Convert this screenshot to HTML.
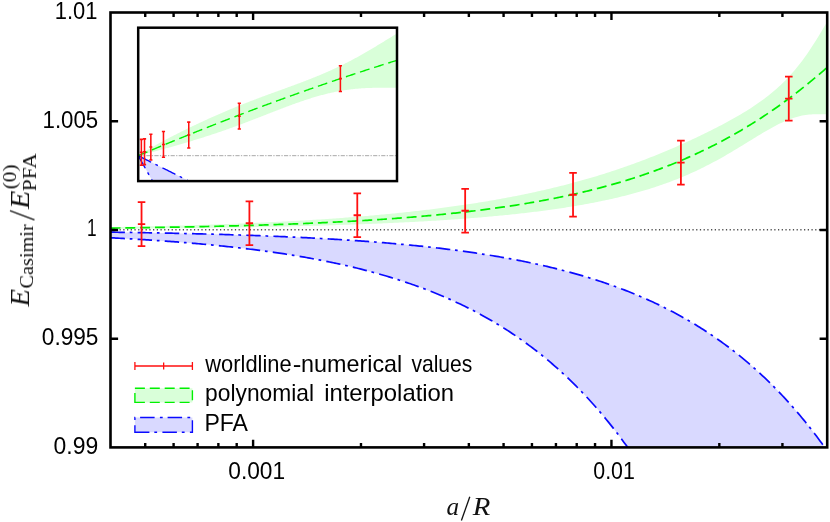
<!DOCTYPE html>
<html><head><meta charset="utf-8"><title>chart</title>
<style>html,body{margin:0;padding:0;background:#fff;overflow:hidden}svg{display:block}</style>
</head><body>
<svg width="830" height="522" viewBox="0 0 830 522">
<defs>
<clipPath id="cm"><rect x="110.50" y="12.50" width="716.70" height="434.90"/></clipPath>
<clipPath id="ci"><rect x="138.20" y="27.70" width="258.80" height="153.40"/></clipPath>
</defs>
<rect width="830" height="522" fill="#fff"/>
<g clip-path="url(#cm)">
<path d="M110.50 232.16 L112.30 232.18 L114.09 232.21 L115.89 232.24 L117.68 232.26 L119.48 232.29 L121.28 232.32 L123.07 232.35 L124.87 232.37 L126.67 232.40 L128.46 232.43 L130.26 232.46 L132.05 232.49 L133.85 232.52 L135.65 232.55 L137.44 232.58 L139.24 232.61 L141.04 232.64 L142.83 232.67 L144.63 232.70 L146.42 232.73 L148.22 232.77 L150.02 232.80 L151.81 232.83 L153.61 232.86 L155.41 232.90 L157.20 232.93 L159.00 232.97 L160.79 233.00 L162.59 233.04 L164.39 233.07 L166.18 233.11 L167.98 233.15 L169.78 233.18 L171.57 233.22 L173.37 233.26 L175.16 233.30 L176.96 233.34 L178.76 233.38 L180.55 233.42 L182.35 233.46 L184.15 233.50 L185.94 233.54 L187.74 233.58 L189.53 233.62 L191.33 233.66 L193.13 233.71 L194.92 233.75 L196.72 233.79 L198.52 233.84 L200.31 233.88 L202.11 233.93 L203.90 233.98 L205.70 234.02 L207.50 234.07 L209.29 234.12 L211.09 234.17 L212.89 234.22 L214.68 234.26 L216.48 234.32 L218.27 234.37 L220.07 234.42 L221.87 234.47 L223.66 234.52 L225.46 234.57 L227.26 234.63 L229.05 234.68 L230.85 234.74 L232.64 234.79 L234.44 234.85 L236.24 234.91 L238.03 234.96 L239.83 235.02 L241.63 235.08 L243.42 235.14 L245.22 235.20 L247.01 235.26 L248.81 235.32 L250.61 235.39 L252.40 235.45 L254.20 235.51 L256.00 235.58 L257.79 235.64 L259.59 235.71 L261.38 235.78 L263.18 235.84 L264.98 235.91 L266.77 235.98 L268.57 236.05 L270.37 236.12 L272.16 236.19 L273.96 236.27 L275.75 236.34 L277.55 236.41 L279.35 236.49 L281.14 236.56 L282.94 236.64 L284.74 236.72 L286.53 236.80 L288.33 236.88 L290.12 236.96 L291.92 237.04 L293.72 237.12 L295.51 237.20 L297.31 237.29 L299.11 237.37 L300.90 237.46 L302.70 237.55 L304.49 237.63 L306.29 237.72 L308.09 237.81 L309.88 237.91 L311.68 238.00 L313.48 238.09 L315.27 238.19 L317.07 238.28 L318.86 238.38 L320.66 238.48 L322.46 238.57 L324.25 238.67 L326.05 238.78 L327.85 238.88 L329.64 238.98 L331.44 239.09 L333.23 239.19 L335.03 239.30 L336.83 239.41 L338.62 239.52 L340.42 239.63 L342.22 239.74 L344.01 239.86 L345.81 239.97 L347.60 240.09 L349.40 240.20 L351.20 240.32 L352.99 240.44 L354.79 240.57 L356.58 240.69 L358.38 240.81 L360.18 240.94 L361.97 241.07 L363.77 241.20 L365.57 241.33 L367.36 241.46 L369.16 241.59 L370.95 241.73 L372.75 241.86 L374.55 242.00 L376.34 242.14 L378.14 242.28 L379.94 242.43 L381.73 242.57 L383.53 242.72 L385.32 242.87 L387.12 243.02 L388.92 243.17 L390.71 243.32 L392.51 243.48 L394.31 243.63 L396.10 243.79 L397.90 243.95 L399.69 244.12 L401.49 244.28 L403.29 244.45 L405.08 244.62 L406.88 244.79 L408.68 244.96 L410.47 245.13 L412.27 245.31 L414.06 245.49 L415.86 245.67 L417.66 245.85 L419.45 246.03 L421.25 246.22 L423.05 246.41 L424.84 246.60 L426.64 246.79 L428.43 246.99 L430.23 247.19 L432.03 247.39 L433.82 247.59 L435.62 247.80 L437.42 248.00 L439.21 248.21 L441.01 248.42 L442.80 248.64 L444.60 248.86 L446.40 249.07 L448.19 249.30 L449.99 249.52 L451.79 249.75 L453.58 249.98 L455.38 250.21 L457.17 250.45 L458.97 250.68 L460.77 250.92 L462.56 251.17 L464.36 251.41 L466.16 251.66 L467.95 251.92 L469.75 252.17 L471.54 252.43 L473.34 252.69 L475.14 252.95 L476.93 253.22 L478.73 253.49 L480.53 253.76 L482.32 254.04 L484.12 254.32 L485.91 254.60 L487.71 254.89 L489.51 255.18 L491.30 255.47 L493.10 255.77 L494.90 256.07 L496.69 256.37 L498.49 256.68 L500.28 256.99 L502.08 257.30 L503.88 257.62 L505.67 257.94 L507.47 258.27 L509.27 258.59 L511.06 258.93 L512.86 259.26 L514.65 259.60 L516.45 259.95 L518.25 260.30 L520.04 260.65 L521.84 261.00 L523.64 261.36 L525.43 261.73 L527.23 262.10 L529.02 262.47 L530.82 262.85 L532.62 263.23 L534.41 263.62 L536.21 264.01 L538.01 264.40 L539.80 264.80 L541.60 265.21 L543.39 265.62 L545.19 266.03 L546.99 266.45 L548.78 266.87 L550.58 267.30 L552.38 267.74 L554.17 268.18 L555.97 268.62 L557.76 269.07 L559.56 269.52 L561.36 269.98 L563.15 270.45 L564.95 270.92 L566.75 271.39 L568.54 271.87 L570.34 272.36 L572.13 272.85 L573.93 273.35 L575.73 273.85 L577.52 274.36 L579.32 274.88 L581.12 275.40 L582.91 275.93 L584.71 276.46 L586.50 277.00 L588.30 277.55 L590.10 278.10 L591.89 278.66 L593.69 279.22 L595.48 279.80 L597.28 280.38 L599.08 280.96 L600.87 281.55 L602.67 282.15 L604.47 282.76 L606.26 283.37 L608.06 283.99 L609.85 284.62 L611.65 285.25 L613.45 285.90 L615.24 286.54 L617.04 287.20 L618.84 287.87 L620.63 288.54 L622.43 289.22 L624.22 289.91 L626.02 290.60 L627.82 291.31 L629.61 292.02 L631.41 292.74 L633.21 293.47 L635.00 294.21 L636.80 294.95 L638.59 295.71 L640.39 296.47 L642.19 297.24 L643.98 298.02 L645.78 298.81 L647.58 299.61 L649.37 300.42 L651.17 301.24 L652.96 302.07 L654.76 302.90 L656.56 303.75 L658.35 304.61 L660.15 305.47 L661.95 306.35 L663.74 307.24 L665.54 308.14 L667.33 309.04 L669.13 309.96 L670.93 310.89 L672.72 311.83 L674.52 312.78 L676.32 313.74 L678.11 314.71 L679.91 315.70 L681.70 316.69 L683.50 317.70 L685.30 318.72 L687.09 319.75 L688.89 320.79 L690.69 321.85 L692.48 322.91 L694.28 323.99 L696.07 325.08 L697.87 326.19 L699.67 327.31 L701.46 328.44 L703.26 329.58 L705.06 330.74 L706.85 331.91 L708.65 333.09 L710.44 334.29 L712.24 335.50 L714.04 336.72 L715.83 337.96 L717.63 339.22 L719.43 340.49 L721.22 341.77 L723.02 343.07 L724.81 344.38 L726.61 345.71 L728.41 347.05 L730.20 348.41 L732.00 349.79 L733.80 351.18 L735.59 352.58 L737.39 354.01 L739.18 355.45 L740.98 356.91 L742.78 358.38 L744.57 359.87 L746.37 361.38 L748.17 362.90 L749.96 364.45 L751.76 366.01 L753.55 367.59 L755.35 369.19 L757.15 370.80 L758.94 372.44 L760.74 374.09 L762.54 375.76 L764.33 377.46 L766.13 379.17 L767.92 380.90 L769.72 382.65 L771.52 384.43 L773.31 386.22 L775.11 388.03 L776.91 389.87 L778.70 391.73 L780.50 393.60 L782.29 395.50 L784.09 397.43 L785.89 399.37 L787.68 401.34 L789.48 403.33 L791.28 405.34 L793.07 407.38 L794.87 409.43 L796.66 411.52 L798.46 413.63 L800.26 415.76 L802.05 417.92 L803.85 420.10 L805.65 422.30 L807.44 424.54 L809.24 426.80 L811.03 429.08 L812.83 431.39 L814.63 433.73 L816.42 436.10 L818.22 438.49 L820.02 440.91 L821.81 443.36 L823.61 445.84 L825.40 448.34 L827.20 450.88 L827.20 1013.64 L825.40 1004.65 L823.61 995.76 L821.81 986.97 L820.02 978.28 L818.22 969.69 L816.42 961.21 L814.63 952.81 L812.83 944.52 L811.03 936.32 L809.24 928.21 L807.44 920.20 L805.65 912.28 L803.85 904.45 L802.05 896.71 L800.26 889.06 L798.46 881.49 L796.66 874.02 L794.87 866.63 L793.07 859.32 L791.28 852.10 L789.48 844.96 L787.68 837.90 L785.89 830.92 L784.09 824.03 L782.29 817.21 L780.50 810.47 L778.70 803.81 L776.91 797.22 L775.11 790.71 L773.31 784.28 L771.52 777.92 L769.72 771.63 L767.92 765.41 L766.13 759.27 L764.33 753.20 L762.54 747.19 L760.74 741.26 L758.94 735.39 L757.15 729.59 L755.35 723.85 L753.55 718.19 L751.76 712.58 L749.96 707.05 L748.17 701.57 L746.37 696.16 L744.57 690.81 L742.78 685.52 L740.98 680.29 L739.18 675.12 L737.39 670.02 L735.59 664.97 L733.80 659.97 L732.00 655.04 L730.20 650.16 L728.41 645.34 L726.61 640.57 L724.81 635.86 L723.02 631.20 L721.22 626.60 L719.43 622.05 L717.63 617.55 L715.83 613.10 L714.04 608.70 L712.24 604.36 L710.44 600.06 L708.65 595.81 L706.85 591.61 L705.06 587.46 L703.26 583.36 L701.46 579.31 L699.67 575.30 L697.87 571.33 L696.07 567.42 L694.28 563.54 L692.48 559.71 L690.69 555.93 L688.89 552.19 L687.09 548.49 L685.30 544.84 L683.50 541.22 L681.70 537.65 L679.91 534.12 L678.11 530.63 L676.32 527.18 L674.52 523.77 L672.72 520.40 L670.93 517.06 L669.13 513.77 L667.33 510.51 L665.54 507.29 L663.74 504.11 L661.95 500.96 L660.15 497.85 L658.35 494.78 L656.56 491.74 L654.76 488.74 L652.96 485.77 L651.17 482.83 L649.37 479.93 L647.58 477.06 L645.78 474.22 L643.98 471.42 L642.19 468.65 L640.39 465.91 L638.59 463.20 L636.80 460.53 L635.00 457.88 L633.21 455.27 L631.41 452.68 L629.61 450.12 L627.82 447.60 L626.02 445.10 L624.22 442.63 L622.43 440.19 L620.63 437.78 L618.84 435.39 L617.04 433.04 L615.24 430.70 L613.45 428.40 L611.65 426.12 L609.85 423.87 L608.06 421.65 L606.26 419.45 L604.47 417.27 L602.67 415.12 L600.87 413.00 L599.08 410.90 L597.28 408.82 L595.48 406.77 L593.69 404.74 L591.89 402.73 L590.10 400.75 L588.30 398.79 L586.50 396.85 L584.71 394.94 L582.91 393.04 L581.12 391.17 L579.32 389.32 L577.52 387.49 L575.73 385.69 L573.93 383.90 L572.13 382.13 L570.34 380.39 L568.54 378.66 L566.75 376.95 L564.95 375.27 L563.15 373.60 L561.36 371.95 L559.56 370.32 L557.76 368.71 L555.97 367.12 L554.17 365.54 L552.38 363.99 L550.58 362.45 L548.78 360.93 L546.99 359.43 L545.19 357.94 L543.39 356.47 L541.60 355.02 L539.80 353.58 L538.01 352.17 L536.21 350.76 L534.41 349.38 L532.62 348.01 L530.82 346.65 L529.02 345.31 L527.23 343.99 L525.43 342.68 L523.64 341.39 L521.84 340.11 L520.04 338.84 L518.25 337.59 L516.45 336.36 L514.65 335.14 L512.86 333.93 L511.06 332.74 L509.27 331.56 L507.47 330.39 L505.67 329.24 L503.88 328.10 L502.08 326.97 L500.28 325.86 L498.49 324.76 L496.69 323.67 L494.90 322.60 L493.10 321.53 L491.30 320.48 L489.51 319.44 L487.71 318.42 L485.91 317.40 L484.12 316.40 L482.32 315.41 L480.53 314.42 L478.73 313.46 L476.93 312.50 L475.14 311.55 L473.34 310.61 L471.54 309.69 L469.75 308.77 L467.95 307.87 L466.16 306.97 L464.36 306.09 L462.56 305.22 L460.77 304.35 L458.97 303.50 L457.17 302.65 L455.38 301.82 L453.58 301.00 L451.79 300.18 L449.99 299.37 L448.19 298.58 L446.40 297.79 L444.60 297.01 L442.80 296.24 L441.01 295.48 L439.21 294.73 L437.42 293.99 L435.62 293.25 L433.82 292.52 L432.03 291.81 L430.23 291.10 L428.43 290.40 L426.64 289.70 L424.84 289.02 L423.05 288.34 L421.25 287.67 L419.45 287.01 L417.66 286.35 L415.86 285.70 L414.06 285.06 L412.27 284.43 L410.47 283.81 L408.68 283.19 L406.88 282.58 L405.08 281.97 L403.29 281.38 L401.49 280.79 L399.69 280.20 L397.90 279.63 L396.10 279.06 L394.31 278.49 L392.51 277.94 L390.71 277.39 L388.92 276.84 L387.12 276.30 L385.32 275.77 L383.53 275.24 L381.73 274.73 L379.94 274.21 L378.14 273.70 L376.34 273.20 L374.55 272.70 L372.75 272.21 L370.95 271.73 L369.16 271.25 L367.36 270.78 L365.57 270.31 L363.77 269.84 L361.97 269.39 L360.18 268.93 L358.38 268.49 L356.58 268.04 L354.79 267.61 L352.99 267.18 L351.20 266.75 L349.40 266.33 L347.60 265.91 L345.81 265.50 L344.01 265.09 L342.22 264.68 L340.42 264.29 L338.62 263.89 L336.83 263.50 L335.03 263.12 L333.23 262.74 L331.44 262.36 L329.64 261.99 L327.85 261.62 L326.05 261.26 L324.25 260.90 L322.46 260.54 L320.66 260.19 L318.86 259.84 L317.07 259.50 L315.27 259.16 L313.48 258.83 L311.68 258.50 L309.88 258.17 L308.09 257.84 L306.29 257.52 L304.49 257.21 L302.70 256.90 L300.90 256.59 L299.11 256.28 L297.31 255.98 L295.51 255.68 L293.72 255.38 L291.92 255.09 L290.12 254.80 L288.33 254.52 L286.53 254.24 L284.74 253.96 L282.94 253.68 L281.14 253.41 L279.35 253.14 L277.55 252.88 L275.75 252.61 L273.96 252.35 L272.16 252.09 L270.37 251.84 L268.57 251.59 L266.77 251.34 L264.98 251.10 L263.18 250.85 L261.38 250.61 L259.59 250.38 L257.79 250.14 L256.00 249.91 L254.20 249.68 L252.40 249.45 L250.61 249.23 L248.81 249.01 L247.01 248.79 L245.22 248.57 L243.42 248.36 L241.63 248.15 L239.83 247.94 L238.03 247.73 L236.24 247.53 L234.44 247.33 L232.64 247.13 L230.85 246.93 L229.05 246.74 L227.26 246.54 L225.46 246.35 L223.66 246.17 L221.87 245.98 L220.07 245.80 L218.27 245.61 L216.48 245.43 L214.68 245.26 L212.89 245.08 L211.09 244.91 L209.29 244.74 L207.50 244.57 L205.70 244.40 L203.90 244.23 L202.11 244.07 L200.31 243.91 L198.52 243.75 L196.72 243.59 L194.92 243.43 L193.13 243.28 L191.33 243.12 L189.53 242.97 L187.74 242.82 L185.94 242.68 L184.15 242.53 L182.35 242.38 L180.55 242.24 L178.76 242.10 L176.96 241.96 L175.16 241.82 L173.37 241.69 L171.57 241.55 L169.78 241.42 L167.98 241.29 L166.18 241.16 L164.39 241.03 L162.59 240.90 L160.79 240.78 L159.00 240.65 L157.20 240.53 L155.41 240.41 L153.61 240.29 L151.81 240.17 L150.02 240.05 L148.22 239.94 L146.42 239.82 L144.63 239.71 L142.83 239.60 L141.04 239.49 L139.24 239.38 L137.44 239.27 L135.65 239.16 L133.85 239.06 L132.05 238.95 L130.26 238.85 L128.46 238.75 L126.67 238.64 L124.87 238.54 L123.07 238.45 L121.28 238.35 L119.48 238.25 L117.68 238.16 L115.89 238.06 L114.09 237.97 L112.30 237.88 L110.50 237.79 Z" fill="#d9d9ff"/>
<path d="M110.50 227.11 L112.30 227.08 L114.09 227.05 L115.89 227.01 L117.68 226.98 L119.48 226.95 L121.28 226.91 L123.07 226.88 L124.87 226.84 L126.67 226.81 L128.46 226.77 L130.26 226.73 L132.05 226.70 L133.85 226.66 L135.65 226.62 L137.44 226.59 L139.24 226.55 L141.04 226.51 L142.83 226.47 L144.63 226.43 L146.42 226.39 L148.22 226.35 L150.02 226.31 L151.81 226.27 L153.61 226.22 L155.41 226.18 L157.20 226.14 L159.00 226.09 L160.79 226.05 L162.59 226.01 L164.39 225.96 L166.18 225.92 L167.98 225.87 L169.78 225.82 L171.57 225.78 L173.37 225.73 L175.16 225.68 L176.96 225.63 L178.76 225.58 L180.55 225.53 L182.35 225.48 L184.15 225.43 L185.94 225.38 L187.74 225.33 L189.53 225.28 L191.33 225.22 L193.13 225.17 L194.92 225.11 L196.72 225.06 L198.52 225.00 L200.31 224.95 L202.11 224.89 L203.90 224.83 L205.70 224.78 L207.50 224.72 L209.29 224.66 L211.09 224.60 L212.89 224.54 L214.68 224.48 L216.48 224.41 L218.27 224.35 L220.07 224.29 L221.87 224.22 L223.66 224.16 L225.46 224.09 L227.26 224.03 L229.05 223.96 L230.85 223.89 L232.64 223.82 L234.44 223.75 L236.24 223.69 L238.03 223.61 L239.83 223.54 L241.63 223.47 L243.42 223.40 L245.22 223.32 L247.01 223.25 L248.81 223.17 L250.61 223.10 L252.40 223.02 L254.20 222.94 L256.00 222.86 L257.79 222.78 L259.59 222.70 L261.38 222.62 L263.18 222.54 L264.98 222.46 L266.77 222.37 L268.57 222.29 L270.37 222.20 L272.16 222.11 L273.96 222.03 L275.75 221.94 L277.55 221.85 L279.35 221.76 L281.14 221.66 L282.94 221.57 L284.74 221.48 L286.53 221.38 L288.33 221.29 L290.12 221.19 L291.92 221.09 L293.72 220.99 L295.51 220.89 L297.31 220.79 L299.11 220.69 L300.90 220.59 L302.70 220.48 L304.49 220.38 L306.29 220.27 L308.09 220.16 L309.88 220.05 L311.68 219.94 L313.48 219.83 L315.27 219.72 L317.07 219.61 L318.86 219.49 L320.66 219.38 L322.46 219.26 L324.25 219.14 L326.05 219.02 L327.85 218.90 L329.64 218.78 L331.44 218.65 L333.23 218.53 L335.03 218.40 L336.83 218.27 L338.62 218.14 L340.42 218.01 L342.22 217.88 L344.01 217.75 L345.81 217.61 L347.60 217.48 L349.40 217.34 L351.20 217.20 L352.99 217.06 L354.79 216.92 L356.58 216.78 L358.38 216.63 L360.18 216.49 L361.97 216.34 L363.77 216.19 L365.57 216.04 L367.36 215.88 L369.16 215.73 L370.95 215.57 L372.75 215.42 L374.55 215.26 L376.34 215.10 L378.14 214.93 L379.94 214.77 L381.73 214.60 L383.53 214.44 L385.32 214.27 L387.12 214.10 L388.92 213.92 L390.71 213.75 L392.51 213.57 L394.31 213.40 L396.10 213.21 L397.90 213.03 L399.69 212.85 L401.49 212.66 L403.29 212.48 L405.08 212.29 L406.88 212.10 L408.68 211.90 L410.47 211.71 L412.27 211.51 L414.06 211.31 L415.86 211.11 L417.66 210.90 L419.45 210.70 L421.25 210.49 L423.05 210.28 L424.84 210.07 L426.64 209.86 L428.43 209.64 L430.23 209.42 L432.03 209.20 L433.82 208.98 L435.62 208.75 L437.42 208.52 L439.21 208.29 L441.01 208.06 L442.80 207.83 L444.60 207.59 L446.40 207.35 L448.19 207.11 L449.99 206.87 L451.79 206.62 L453.58 206.37 L455.38 206.12 L457.17 205.86 L458.97 205.61 L460.77 205.35 L462.56 205.09 L464.36 204.82 L466.16 204.55 L467.95 204.28 L469.75 204.01 L471.54 203.74 L473.34 203.46 L475.14 203.18 L476.93 202.89 L478.73 202.61 L480.53 202.32 L482.32 202.03 L484.12 201.73 L485.91 201.43 L487.71 201.13 L489.51 200.83 L491.30 200.52 L493.10 200.21 L494.90 199.90 L496.69 199.58 L498.49 199.26 L500.28 198.94 L502.08 198.61 L503.88 198.28 L505.67 197.95 L507.47 197.61 L509.27 197.27 L511.06 196.93 L512.86 196.59 L514.65 196.24 L516.45 195.88 L518.25 195.53 L520.04 195.17 L521.84 194.81 L523.64 194.44 L525.43 194.07 L527.23 193.69 L529.02 193.32 L530.82 192.94 L532.62 192.55 L534.41 192.16 L536.21 191.77 L538.01 191.37 L539.80 190.97 L541.60 190.57 L543.39 190.16 L545.19 189.75 L546.99 189.33 L548.78 188.91 L550.58 188.48 L552.38 188.06 L554.17 187.62 L555.97 187.19 L557.76 186.74 L559.56 186.30 L561.36 185.85 L563.15 185.39 L564.95 184.93 L566.75 184.47 L568.54 184.00 L570.34 183.53 L572.13 183.06 L573.93 182.57 L575.73 182.09 L577.52 181.60 L579.32 181.10 L581.12 180.60 L582.91 180.10 L584.71 179.59 L586.50 179.07 L588.30 178.56 L590.10 178.03 L591.89 177.50 L593.69 176.97 L595.48 176.43 L597.28 175.89 L599.08 175.34 L600.87 174.78 L602.67 174.23 L604.47 173.66 L606.26 173.09 L608.06 172.52 L609.85 171.94 L611.65 171.35 L613.45 170.76 L615.24 170.17 L617.04 169.57 L618.84 168.96 L620.63 168.35 L622.43 167.73 L624.22 167.11 L626.02 166.48 L627.82 165.85 L629.61 165.21 L631.41 164.57 L633.21 163.92 L635.00 163.26 L636.80 162.60 L638.59 161.93 L640.39 161.26 L642.19 160.59 L643.98 159.90 L645.78 159.21 L647.58 158.52 L649.37 157.82 L651.17 157.12 L652.96 156.41 L654.76 155.69 L656.56 154.97 L658.35 154.24 L660.15 153.51 L661.95 152.77 L663.74 152.02 L665.54 151.28 L667.33 150.52 L669.13 149.76 L670.93 148.99 L672.72 148.22 L674.52 147.44 L676.32 146.66 L678.11 145.87 L679.91 145.08 L681.70 144.28 L683.50 143.47 L685.30 142.66 L687.09 141.84 L688.89 141.02 L690.69 140.19 L692.48 139.36 L694.28 138.52 L696.07 137.67 L697.87 136.82 L699.67 135.96 L701.46 135.10 L703.26 134.23 L705.06 133.35 L706.85 132.47 L708.65 131.58 L710.44 130.68 L712.24 129.78 L714.04 128.87 L715.83 127.95 L717.63 127.03 L719.43 126.10 L721.22 125.16 L723.02 124.21 L724.81 123.25 L726.61 122.28 L728.41 121.30 L730.20 120.32 L732.00 119.32 L733.80 118.31 L735.59 117.29 L737.39 116.26 L739.18 115.21 L740.98 114.15 L742.78 113.08 L744.57 111.99 L746.37 110.89 L748.17 109.76 L749.96 108.63 L751.76 107.47 L753.55 106.29 L755.35 105.09 L757.15 103.86 L758.94 102.62 L760.74 101.34 L762.54 100.04 L764.33 98.71 L766.13 97.36 L767.92 95.97 L769.72 94.54 L771.52 93.08 L773.31 91.58 L775.11 90.05 L776.91 88.47 L778.70 86.85 L780.50 85.18 L782.29 83.47 L784.09 81.71 L785.89 79.89 L787.68 78.02 L789.48 76.10 L791.28 74.12 L793.07 72.07 L794.87 69.97 L796.66 67.80 L798.46 65.57 L800.26 63.27 L802.05 60.91 L803.85 58.48 L805.65 55.98 L807.44 53.42 L809.24 50.79 L811.03 48.09 L812.83 45.34 L814.63 42.52 L816.42 39.66 L818.22 36.74 L820.02 33.78 L821.81 30.79 L823.61 27.77 L825.40 24.74 L827.20 21.71 L827.20 114.24 L825.40 114.26 L823.61 114.25 L821.81 114.23 L820.02 114.21 L818.22 114.20 L816.42 114.20 L814.63 114.24 L812.83 114.31 L811.03 114.42 L809.24 114.56 L807.44 114.76 L805.65 115.00 L803.85 115.29 L802.05 115.62 L800.26 116.01 L798.46 116.44 L796.66 116.93 L794.87 117.46 L793.07 118.04 L791.28 118.66 L789.48 119.32 L787.68 120.03 L785.89 120.78 L784.09 121.56 L782.29 122.38 L780.50 123.23 L778.70 124.11 L776.91 125.02 L775.11 125.96 L773.31 126.92 L771.52 127.90 L769.72 128.90 L767.92 129.93 L766.13 130.96 L764.33 132.02 L762.54 133.08 L760.74 134.16 L758.94 135.24 L757.15 136.34 L755.35 137.43 L753.55 138.54 L751.76 139.64 L749.96 140.75 L748.17 141.86 L746.37 142.97 L744.57 144.07 L742.78 145.18 L740.98 146.28 L739.18 147.37 L737.39 148.46 L735.59 149.55 L733.80 150.62 L732.00 151.69 L730.20 152.75 L728.41 153.81 L726.61 154.85 L724.81 155.88 L723.02 156.91 L721.22 157.92 L719.43 158.92 L717.63 159.92 L715.83 160.90 L714.04 161.86 L712.24 162.82 L710.44 163.77 L708.65 164.70 L706.85 165.62 L705.06 166.53 L703.26 167.42 L701.46 168.31 L699.67 169.18 L697.87 170.04 L696.07 170.89 L694.28 171.72 L692.48 172.54 L690.69 173.36 L688.89 174.15 L687.09 174.94 L685.30 175.71 L683.50 176.48 L681.70 177.23 L679.91 177.97 L678.11 178.69 L676.32 179.41 L674.52 180.12 L672.72 180.81 L670.93 181.49 L669.13 182.16 L667.33 182.83 L665.54 183.48 L663.74 184.12 L661.95 184.75 L660.15 185.37 L658.35 185.98 L656.56 186.58 L654.76 187.17 L652.96 187.76 L651.17 188.33 L649.37 188.89 L647.58 189.45 L645.78 189.99 L643.98 190.53 L642.19 191.06 L640.39 191.58 L638.59 192.09 L636.80 192.60 L635.00 193.09 L633.21 193.58 L631.41 194.06 L629.61 194.54 L627.82 195.01 L626.02 195.47 L624.22 195.92 L622.43 196.36 L620.63 196.80 L618.84 197.23 L617.04 197.66 L615.24 198.08 L613.45 198.49 L611.65 198.90 L609.85 199.30 L608.06 199.69 L606.26 200.08 L604.47 200.47 L602.67 200.84 L600.87 201.21 L599.08 201.58 L597.28 201.94 L595.48 202.30 L593.69 202.65 L591.89 202.99 L590.10 203.34 L588.30 203.67 L586.50 204.00 L584.71 204.33 L582.91 204.65 L581.12 204.97 L579.32 205.28 L577.52 205.59 L575.73 205.89 L573.93 206.20 L572.13 206.49 L570.34 206.78 L568.54 207.07 L566.75 207.35 L564.95 207.63 L563.15 207.91 L561.36 208.18 L559.56 208.45 L557.76 208.72 L555.97 208.98 L554.17 209.24 L552.38 209.49 L550.58 209.74 L548.78 209.99 L546.99 210.24 L545.19 210.48 L543.39 210.72 L541.60 210.95 L539.80 211.18 L538.01 211.41 L536.21 211.64 L534.41 211.86 L532.62 212.08 L530.82 212.30 L529.02 212.51 L527.23 212.73 L525.43 212.93 L523.64 213.14 L521.84 213.34 L520.04 213.55 L518.25 213.74 L516.45 213.94 L514.65 214.13 L512.86 214.33 L511.06 214.51 L509.27 214.70 L507.47 214.88 L505.67 215.07 L503.88 215.24 L502.08 215.42 L500.28 215.60 L498.49 215.77 L496.69 215.94 L494.90 216.11 L493.10 216.27 L491.30 216.44 L489.51 216.60 L487.71 216.76 L485.91 216.92 L484.12 217.07 L482.32 217.23 L480.53 217.38 L478.73 217.53 L476.93 217.68 L475.14 217.83 L473.34 217.97 L471.54 218.12 L469.75 218.26 L467.95 218.40 L466.16 218.53 L464.36 218.67 L462.56 218.80 L460.77 218.94 L458.97 219.07 L457.17 219.20 L455.38 219.33 L453.58 219.45 L451.79 219.58 L449.99 219.70 L448.19 219.82 L446.40 219.94 L444.60 220.06 L442.80 220.18 L441.01 220.30 L439.21 220.41 L437.42 220.52 L435.62 220.64 L433.82 220.75 L432.03 220.86 L430.23 220.96 L428.43 221.07 L426.64 221.18 L424.84 221.28 L423.05 221.38 L421.25 221.48 L419.45 221.58 L417.66 221.68 L415.86 221.78 L414.06 221.88 L412.27 221.97 L410.47 222.07 L408.68 222.16 L406.88 222.25 L405.08 222.34 L403.29 222.43 L401.49 222.52 L399.69 222.61 L397.90 222.70 L396.10 222.78 L394.31 222.87 L392.51 222.95 L390.71 223.03 L388.92 223.11 L387.12 223.20 L385.32 223.27 L383.53 223.35 L381.73 223.43 L379.94 223.51 L378.14 223.58 L376.34 223.66 L374.55 223.73 L372.75 223.81 L370.95 223.88 L369.16 223.95 L367.36 224.02 L365.57 224.09 L363.77 224.16 L361.97 224.23 L360.18 224.29 L358.38 224.36 L356.58 224.43 L354.79 224.49 L352.99 224.56 L351.20 224.62 L349.40 224.68 L347.60 224.74 L345.81 224.80 L344.01 224.87 L342.22 224.92 L340.42 224.98 L338.62 225.04 L336.83 225.10 L335.03 225.16 L333.23 225.21 L331.44 225.27 L329.64 225.32 L327.85 225.38 L326.05 225.43 L324.25 225.48 L322.46 225.54 L320.66 225.59 L318.86 225.64 L317.07 225.69 L315.27 225.74 L313.48 225.79 L311.68 225.84 L309.88 225.89 L308.09 225.93 L306.29 225.98 L304.49 226.03 L302.70 226.07 L300.90 226.12 L299.11 226.16 L297.31 226.21 L295.51 226.25 L293.72 226.29 L291.92 226.34 L290.12 226.38 L288.33 226.42 L286.53 226.46 L284.74 226.50 L282.94 226.54 L281.14 226.58 L279.35 226.62 L277.55 226.66 L275.75 226.70 L273.96 226.74 L272.16 226.77 L270.37 226.81 L268.57 226.85 L266.77 226.88 L264.98 226.92 L263.18 226.95 L261.38 226.99 L259.59 227.02 L257.79 227.06 L256.00 227.09 L254.20 227.12 L252.40 227.16 L250.61 227.19 L248.81 227.22 L247.01 227.25 L245.22 227.29 L243.42 227.32 L241.63 227.35 L239.83 227.38 L238.03 227.41 L236.24 227.44 L234.44 227.47 L232.64 227.49 L230.85 227.52 L229.05 227.55 L227.26 227.58 L225.46 227.61 L223.66 227.63 L221.87 227.66 L220.07 227.69 L218.27 227.71 L216.48 227.74 L214.68 227.77 L212.89 227.79 L211.09 227.82 L209.29 227.84 L207.50 227.87 L205.70 227.89 L203.90 227.91 L202.11 227.94 L200.31 227.96 L198.52 227.98 L196.72 228.01 L194.92 228.03 L193.13 228.05 L191.33 228.07 L189.53 228.09 L187.74 228.12 L185.94 228.14 L184.15 228.16 L182.35 228.18 L180.55 228.20 L178.76 228.22 L176.96 228.24 L175.16 228.26 L173.37 228.28 L171.57 228.30 L169.78 228.32 L167.98 228.34 L166.18 228.36 L164.39 228.37 L162.59 228.39 L160.79 228.41 L159.00 228.43 L157.20 228.45 L155.41 228.46 L153.61 228.48 L151.81 228.50 L150.02 228.51 L148.22 228.53 L146.42 228.55 L144.63 228.56 L142.83 228.58 L141.04 228.60 L139.24 228.61 L137.44 228.63 L135.65 228.64 L133.85 228.66 L132.05 228.67 L130.26 228.69 L128.46 228.70 L126.67 228.72 L124.87 228.73 L123.07 228.74 L121.28 228.76 L119.48 228.77 L117.68 228.79 L115.89 228.80 L114.09 228.81 L112.30 228.83 L110.50 228.84 Z" fill="#d9ffd9"/>
<line x1="112.10" y1="229.75" x2="827.20" y2="229.75" stroke="#505050" stroke-width="1.3" stroke-dasharray="1.25 2.47"/>
<path d="M110.50 232.16 L112.30 232.18 L114.09 232.21 L115.89 232.24 L117.68 232.26 L119.48 232.29 L121.28 232.32 L123.07 232.35 L124.87 232.37 L126.67 232.40 L128.46 232.43 L130.26 232.46 L132.05 232.49 L133.85 232.52 L135.65 232.55 L137.44 232.58 L139.24 232.61 L141.04 232.64 L142.83 232.67 L144.63 232.70 L146.42 232.73 L148.22 232.77 L150.02 232.80 L151.81 232.83 L153.61 232.86 L155.41 232.90 L157.20 232.93 L159.00 232.97 L160.79 233.00 L162.59 233.04 L164.39 233.07 L166.18 233.11 L167.98 233.15 L169.78 233.18 L171.57 233.22 L173.37 233.26 L175.16 233.30 L176.96 233.34 L178.76 233.38 L180.55 233.42 L182.35 233.46 L184.15 233.50 L185.94 233.54 L187.74 233.58 L189.53 233.62 L191.33 233.66 L193.13 233.71 L194.92 233.75 L196.72 233.79 L198.52 233.84 L200.31 233.88 L202.11 233.93 L203.90 233.98 L205.70 234.02 L207.50 234.07 L209.29 234.12 L211.09 234.17 L212.89 234.22 L214.68 234.26 L216.48 234.32 L218.27 234.37 L220.07 234.42 L221.87 234.47 L223.66 234.52 L225.46 234.57 L227.26 234.63 L229.05 234.68 L230.85 234.74 L232.64 234.79 L234.44 234.85 L236.24 234.91 L238.03 234.96 L239.83 235.02 L241.63 235.08 L243.42 235.14 L245.22 235.20 L247.01 235.26 L248.81 235.32 L250.61 235.39 L252.40 235.45 L254.20 235.51 L256.00 235.58 L257.79 235.64 L259.59 235.71 L261.38 235.78 L263.18 235.84 L264.98 235.91 L266.77 235.98 L268.57 236.05 L270.37 236.12 L272.16 236.19 L273.96 236.27 L275.75 236.34 L277.55 236.41 L279.35 236.49 L281.14 236.56 L282.94 236.64 L284.74 236.72 L286.53 236.80 L288.33 236.88 L290.12 236.96 L291.92 237.04 L293.72 237.12 L295.51 237.20 L297.31 237.29 L299.11 237.37 L300.90 237.46 L302.70 237.55 L304.49 237.63 L306.29 237.72 L308.09 237.81 L309.88 237.91 L311.68 238.00 L313.48 238.09 L315.27 238.19 L317.07 238.28 L318.86 238.38 L320.66 238.48 L322.46 238.57 L324.25 238.67 L326.05 238.78 L327.85 238.88 L329.64 238.98 L331.44 239.09 L333.23 239.19 L335.03 239.30 L336.83 239.41 L338.62 239.52 L340.42 239.63 L342.22 239.74 L344.01 239.86 L345.81 239.97 L347.60 240.09 L349.40 240.20 L351.20 240.32 L352.99 240.44 L354.79 240.57 L356.58 240.69 L358.38 240.81 L360.18 240.94 L361.97 241.07 L363.77 241.20 L365.57 241.33 L367.36 241.46 L369.16 241.59 L370.95 241.73 L372.75 241.86 L374.55 242.00 L376.34 242.14 L378.14 242.28 L379.94 242.43 L381.73 242.57 L383.53 242.72 L385.32 242.87 L387.12 243.02 L388.92 243.17 L390.71 243.32 L392.51 243.48 L394.31 243.63 L396.10 243.79 L397.90 243.95 L399.69 244.12 L401.49 244.28 L403.29 244.45 L405.08 244.62 L406.88 244.79 L408.68 244.96 L410.47 245.13 L412.27 245.31 L414.06 245.49 L415.86 245.67 L417.66 245.85 L419.45 246.03 L421.25 246.22 L423.05 246.41 L424.84 246.60 L426.64 246.79 L428.43 246.99 L430.23 247.19 L432.03 247.39 L433.82 247.59 L435.62 247.80 L437.42 248.00 L439.21 248.21 L441.01 248.42 L442.80 248.64 L444.60 248.86 L446.40 249.07 L448.19 249.30 L449.99 249.52 L451.79 249.75 L453.58 249.98 L455.38 250.21 L457.17 250.45 L458.97 250.68 L460.77 250.92 L462.56 251.17 L464.36 251.41 L466.16 251.66 L467.95 251.92 L469.75 252.17 L471.54 252.43 L473.34 252.69 L475.14 252.95 L476.93 253.22 L478.73 253.49 L480.53 253.76 L482.32 254.04 L484.12 254.32 L485.91 254.60 L487.71 254.89 L489.51 255.18 L491.30 255.47 L493.10 255.77 L494.90 256.07 L496.69 256.37 L498.49 256.68 L500.28 256.99 L502.08 257.30 L503.88 257.62 L505.67 257.94 L507.47 258.27 L509.27 258.59 L511.06 258.93 L512.86 259.26 L514.65 259.60 L516.45 259.95 L518.25 260.30 L520.04 260.65 L521.84 261.00 L523.64 261.36 L525.43 261.73 L527.23 262.10 L529.02 262.47 L530.82 262.85 L532.62 263.23 L534.41 263.62 L536.21 264.01 L538.01 264.40 L539.80 264.80 L541.60 265.21 L543.39 265.62 L545.19 266.03 L546.99 266.45 L548.78 266.87 L550.58 267.30 L552.38 267.74 L554.17 268.18 L555.97 268.62 L557.76 269.07 L559.56 269.52 L561.36 269.98 L563.15 270.45 L564.95 270.92 L566.75 271.39 L568.54 271.87 L570.34 272.36 L572.13 272.85 L573.93 273.35 L575.73 273.85 L577.52 274.36 L579.32 274.88 L581.12 275.40 L582.91 275.93 L584.71 276.46 L586.50 277.00 L588.30 277.55 L590.10 278.10 L591.89 278.66 L593.69 279.22 L595.48 279.80 L597.28 280.38 L599.08 280.96 L600.87 281.55 L602.67 282.15 L604.47 282.76 L606.26 283.37 L608.06 283.99 L609.85 284.62 L611.65 285.25 L613.45 285.90 L615.24 286.54 L617.04 287.20 L618.84 287.87 L620.63 288.54 L622.43 289.22 L624.22 289.91 L626.02 290.60 L627.82 291.31 L629.61 292.02 L631.41 292.74 L633.21 293.47 L635.00 294.21 L636.80 294.95 L638.59 295.71 L640.39 296.47 L642.19 297.24 L643.98 298.02 L645.78 298.81 L647.58 299.61 L649.37 300.42 L651.17 301.24 L652.96 302.07 L654.76 302.90 L656.56 303.75 L658.35 304.61 L660.15 305.47 L661.95 306.35 L663.74 307.24 L665.54 308.14 L667.33 309.04 L669.13 309.96 L670.93 310.89 L672.72 311.83 L674.52 312.78 L676.32 313.74 L678.11 314.71 L679.91 315.70 L681.70 316.69 L683.50 317.70 L685.30 318.72 L687.09 319.75 L688.89 320.79 L690.69 321.85 L692.48 322.91 L694.28 323.99 L696.07 325.08 L697.87 326.19 L699.67 327.31 L701.46 328.44 L703.26 329.58 L705.06 330.74 L706.85 331.91 L708.65 333.09 L710.44 334.29 L712.24 335.50 L714.04 336.72 L715.83 337.96 L717.63 339.22 L719.43 340.49 L721.22 341.77 L723.02 343.07 L724.81 344.38 L726.61 345.71 L728.41 347.05 L730.20 348.41 L732.00 349.79 L733.80 351.18 L735.59 352.58 L737.39 354.01 L739.18 355.45 L740.98 356.91 L742.78 358.38 L744.57 359.87 L746.37 361.38 L748.17 362.90 L749.96 364.45 L751.76 366.01 L753.55 367.59 L755.35 369.19 L757.15 370.80 L758.94 372.44 L760.74 374.09 L762.54 375.76 L764.33 377.46 L766.13 379.17 L767.92 380.90 L769.72 382.65 L771.52 384.43 L773.31 386.22 L775.11 388.03 L776.91 389.87 L778.70 391.73 L780.50 393.60 L782.29 395.50 L784.09 397.43 L785.89 399.37 L787.68 401.34 L789.48 403.33 L791.28 405.34 L793.07 407.38 L794.87 409.43 L796.66 411.52 L798.46 413.63 L800.26 415.76 L802.05 417.92 L803.85 420.10 L805.65 422.30 L807.44 424.54 L809.24 426.80 L811.03 429.08 L812.83 431.39 L814.63 433.73 L816.42 436.10 L818.22 438.49 L820.02 440.91 L821.81 443.36 L823.61 445.84 L825.40 448.34 L827.20 450.88" fill="none" stroke="#0a0aff" stroke-width="1.7" stroke-dasharray="14.43 4.81 2.71 5.21"/>
<path d="M110.50 237.79 L112.30 237.88 L114.09 237.97 L115.89 238.06 L117.68 238.16 L119.48 238.25 L121.28 238.35 L123.07 238.45 L124.87 238.54 L126.67 238.64 L128.46 238.75 L130.26 238.85 L132.05 238.95 L133.85 239.06 L135.65 239.16 L137.44 239.27 L139.24 239.38 L141.04 239.49 L142.83 239.60 L144.63 239.71 L146.42 239.82 L148.22 239.94 L150.02 240.05 L151.81 240.17 L153.61 240.29 L155.41 240.41 L157.20 240.53 L159.00 240.65 L160.79 240.78 L162.59 240.90 L164.39 241.03 L166.18 241.16 L167.98 241.29 L169.78 241.42 L171.57 241.55 L173.37 241.69 L175.16 241.82 L176.96 241.96 L178.76 242.10 L180.55 242.24 L182.35 242.38 L184.15 242.53 L185.94 242.68 L187.74 242.82 L189.53 242.97 L191.33 243.12 L193.13 243.28 L194.92 243.43 L196.72 243.59 L198.52 243.75 L200.31 243.91 L202.11 244.07 L203.90 244.23 L205.70 244.40 L207.50 244.57 L209.29 244.74 L211.09 244.91 L212.89 245.08 L214.68 245.26 L216.48 245.43 L218.27 245.61 L220.07 245.80 L221.87 245.98 L223.66 246.17 L225.46 246.35 L227.26 246.54 L229.05 246.74 L230.85 246.93 L232.64 247.13 L234.44 247.33 L236.24 247.53 L238.03 247.73 L239.83 247.94 L241.63 248.15 L243.42 248.36 L245.22 248.57 L247.01 248.79 L248.81 249.01 L250.61 249.23 L252.40 249.45 L254.20 249.68 L256.00 249.91 L257.79 250.14 L259.59 250.38 L261.38 250.61 L263.18 250.85 L264.98 251.10 L266.77 251.34 L268.57 251.59 L270.37 251.84 L272.16 252.09 L273.96 252.35 L275.75 252.61 L277.55 252.88 L279.35 253.14 L281.14 253.41 L282.94 253.68 L284.74 253.96 L286.53 254.24 L288.33 254.52 L290.12 254.80 L291.92 255.09 L293.72 255.38 L295.51 255.68 L297.31 255.98 L299.11 256.28 L300.90 256.59 L302.70 256.90 L304.49 257.21 L306.29 257.52 L308.09 257.84 L309.88 258.17 L311.68 258.50 L313.48 258.83 L315.27 259.16 L317.07 259.50 L318.86 259.84 L320.66 260.19 L322.46 260.54 L324.25 260.90 L326.05 261.26 L327.85 261.62 L329.64 261.99 L331.44 262.36 L333.23 262.74 L335.03 263.12 L336.83 263.50 L338.62 263.89 L340.42 264.29 L342.22 264.68 L344.01 265.09 L345.81 265.50 L347.60 265.91 L349.40 266.33 L351.20 266.75 L352.99 267.18 L354.79 267.61 L356.58 268.04 L358.38 268.49 L360.18 268.93 L361.97 269.39 L363.77 269.84 L365.57 270.31 L367.36 270.78 L369.16 271.25 L370.95 271.73 L372.75 272.21 L374.55 272.70 L376.34 273.20 L378.14 273.70 L379.94 274.21 L381.73 274.73 L383.53 275.24 L385.32 275.77 L387.12 276.30 L388.92 276.84 L390.71 277.39 L392.51 277.94 L394.31 278.49 L396.10 279.06 L397.90 279.63 L399.69 280.20 L401.49 280.79 L403.29 281.38 L405.08 281.97 L406.88 282.58 L408.68 283.19 L410.47 283.81 L412.27 284.43 L414.06 285.06 L415.86 285.70 L417.66 286.35 L419.45 287.01 L421.25 287.67 L423.05 288.34 L424.84 289.02 L426.64 289.70 L428.43 290.40 L430.23 291.10 L432.03 291.81 L433.82 292.52 L435.62 293.25 L437.42 293.99 L439.21 294.73 L441.01 295.48 L442.80 296.24 L444.60 297.01 L446.40 297.79 L448.19 298.58 L449.99 299.37 L451.79 300.18 L453.58 301.00 L455.38 301.82 L457.17 302.65 L458.97 303.50 L460.77 304.35 L462.56 305.22 L464.36 306.09 L466.16 306.97 L467.95 307.87 L469.75 308.77 L471.54 309.69 L473.34 310.61 L475.14 311.55 L476.93 312.50 L478.73 313.46 L480.53 314.42 L482.32 315.41 L484.12 316.40 L485.91 317.40 L487.71 318.42 L489.51 319.44 L491.30 320.48 L493.10 321.53 L494.90 322.60 L496.69 323.67 L498.49 324.76 L500.28 325.86 L502.08 326.97 L503.88 328.10 L505.67 329.24 L507.47 330.39 L509.27 331.56 L511.06 332.74 L512.86 333.93 L514.65 335.14 L516.45 336.36 L518.25 337.59 L520.04 338.84 L521.84 340.11 L523.64 341.39 L525.43 342.68 L527.23 343.99 L529.02 345.31 L530.82 346.65 L532.62 348.01 L534.41 349.38 L536.21 350.76 L538.01 352.17 L539.80 353.58 L541.60 355.02 L543.39 356.47 L545.19 357.94 L546.99 359.43 L548.78 360.93 L550.58 362.45 L552.38 363.99 L554.17 365.54 L555.97 367.12 L557.76 368.71 L559.56 370.32 L561.36 371.95 L563.15 373.60 L564.95 375.27 L566.75 376.95 L568.54 378.66 L570.34 380.39 L572.13 382.13 L573.93 383.90 L575.73 385.69 L577.52 387.49 L579.32 389.32 L581.12 391.17 L582.91 393.04 L584.71 394.94 L586.50 396.85 L588.30 398.79 L590.10 400.75 L591.89 402.73 L593.69 404.74 L595.48 406.77 L597.28 408.82 L599.08 410.90 L600.87 413.00 L602.67 415.12 L604.47 417.27 L606.26 419.45 L608.06 421.65 L609.85 423.87 L611.65 426.12 L613.45 428.40 L615.24 430.70 L617.04 433.04 L618.84 435.39 L620.63 437.78 L622.43 440.19 L624.22 442.63 L626.02 445.10 L627.82 447.60 L629.61 450.12 L631.41 452.68 L633.21 455.27 L635.00 457.88 L636.80 460.53 L638.59 463.20 L640.39 465.91 L642.19 468.65 L643.98 471.42 L645.78 474.22 L647.58 477.06 L649.37 479.93 L651.17 482.83 L652.96 485.77 L654.76 488.74 L656.56 491.74 L658.35 494.78 L660.15 497.85 L661.95 500.96 L663.74 504.11 L665.54 507.29 L667.33 510.51 L669.13 513.77 L670.93 517.06 L672.72 520.40 L674.52 523.77 L676.32 527.18 L678.11 530.63 L679.91 534.12 L681.70 537.65 L683.50 541.22 L685.30 544.84 L687.09 548.49 L688.89 552.19 L690.69 555.93 L692.48 559.71 L694.28 563.54 L696.07 567.42 L697.87 571.33 L699.67 575.30 L701.46 579.31 L703.26 583.36 L705.06 587.46 L706.85 591.61 L708.65 595.81 L710.44 600.06 L712.24 604.36 L714.04 608.70 L715.83 613.10 L717.63 617.55 L719.43 622.05 L721.22 626.60 L723.02 631.20 L724.81 635.86 L726.61 640.57 L728.41 645.34 L730.20 650.16 L732.00 655.04 L733.80 659.97 L735.59 664.97 L737.39 670.02 L739.18 675.12 L740.98 680.29 L742.78 685.52 L744.57 690.81 L746.37 696.16 L748.17 701.57 L749.96 707.05 L751.76 712.58 L753.55 718.19 L755.35 723.85 L757.15 729.59 L758.94 735.39 L760.74 741.26 L762.54 747.19 L764.33 753.20 L766.13 759.27 L767.92 765.41 L769.72 771.63 L771.52 777.92 L773.31 784.28 L775.11 790.71 L776.91 797.22 L778.70 803.81 L780.50 810.47 L782.29 817.21 L784.09 824.03 L785.89 830.92 L787.68 837.90 L789.48 844.96 L791.28 852.10 L793.07 859.32 L794.87 866.63 L796.66 874.02 L798.46 881.49 L800.26 889.06 L802.05 896.71 L803.85 904.45 L805.65 912.28 L807.44 920.20 L809.24 928.21 L811.03 936.32 L812.83 944.52 L814.63 952.81 L816.42 961.21 L818.22 969.69 L820.02 978.28 L821.81 986.97 L823.61 995.76 L825.40 1004.65 L827.20 1013.64" fill="none" stroke="#0a0aff" stroke-width="1.7" stroke-dasharray="14.43 4.81 2.71 5.21"/>
<path d="M110.50 228.09 L112.30 228.07 L114.09 228.04 L115.89 228.02 L117.68 228.00 L119.48 227.98 L121.28 227.95 L123.07 227.93 L124.87 227.91 L126.67 227.88 L128.46 227.86 L130.26 227.84 L132.05 227.81 L133.85 227.79 L135.65 227.76 L137.44 227.74 L139.24 227.71 L141.04 227.68 L142.83 227.66 L144.63 227.63 L146.42 227.60 L148.22 227.58 L150.02 227.55 L151.81 227.52 L153.61 227.49 L155.41 227.46 L157.20 227.44 L159.00 227.41 L160.79 227.38 L162.59 227.35 L164.39 227.32 L166.18 227.29 L167.98 227.26 L169.78 227.22 L171.57 227.19 L173.37 227.16 L175.16 227.13 L176.96 227.10 L178.76 227.06 L180.55 227.03 L182.35 227.00 L184.15 226.96 L185.94 226.93 L187.74 226.89 L189.53 226.86 L191.33 226.82 L193.13 226.78 L194.92 226.75 L196.72 226.71 L198.52 226.67 L200.31 226.64 L202.11 226.60 L203.90 226.56 L205.70 226.52 L207.50 226.48 L209.29 226.44 L211.09 226.40 L212.89 226.36 L214.68 226.32 L216.48 226.27 L218.27 226.23 L220.07 226.19 L221.87 226.14 L223.66 226.10 L225.46 226.06 L227.26 226.01 L229.05 225.96 L230.85 225.92 L232.64 225.87 L234.44 225.82 L236.24 225.78 L238.03 225.73 L239.83 225.68 L241.63 225.63 L243.42 225.58 L245.22 225.53 L247.01 225.48 L248.81 225.43 L250.61 225.37 L252.40 225.32 L254.20 225.27 L256.00 225.21 L257.79 225.16 L259.59 225.10 L261.38 225.05 L263.18 224.99 L264.98 224.93 L266.77 224.88 L268.57 224.82 L270.37 224.76 L272.16 224.70 L273.96 224.64 L275.75 224.57 L277.55 224.51 L279.35 224.45 L281.14 224.39 L282.94 224.32 L284.74 224.26 L286.53 224.19 L288.33 224.12 L290.12 224.06 L291.92 223.99 L293.72 223.92 L295.51 223.85 L297.31 223.78 L299.11 223.71 L300.90 223.64 L302.70 223.56 L304.49 223.49 L306.29 223.41 L308.09 223.34 L309.88 223.26 L311.68 223.19 L313.48 223.11 L315.27 223.03 L317.07 222.95 L318.86 222.87 L320.66 222.79 L322.46 222.70 L324.25 222.62 L326.05 222.53 L327.85 222.45 L329.64 222.36 L331.44 222.27 L333.23 222.19 L335.03 222.10 L336.83 222.00 L338.62 221.91 L340.42 221.82 L342.22 221.73 L344.01 221.63 L345.81 221.54 L347.60 221.44 L349.40 221.34 L351.20 221.24 L352.99 221.14 L354.79 221.04 L356.58 220.94 L358.38 220.83 L360.18 220.73 L361.97 220.62 L363.77 220.51 L365.57 220.40 L367.36 220.29 L369.16 220.18 L370.95 220.07 L372.75 219.96 L374.55 219.84 L376.34 219.72 L378.14 219.61 L379.94 219.49 L381.73 219.37 L383.53 219.24 L385.32 219.12 L387.12 219.00 L388.92 218.87 L390.71 218.74 L392.51 218.61 L394.31 218.48 L396.10 218.35 L397.90 218.22 L399.69 218.08 L401.49 217.94 L403.29 217.81 L405.08 217.67 L406.88 217.52 L408.68 217.38 L410.47 217.24 L412.27 217.09 L414.06 216.94 L415.86 216.79 L417.66 216.64 L419.45 216.49 L421.25 216.33 L423.05 216.18 L424.84 216.02 L426.64 215.86 L428.43 215.70 L430.23 215.53 L432.03 215.37 L433.82 215.20 L435.62 215.03 L437.42 214.86 L439.21 214.68 L441.01 214.51 L442.80 214.33 L444.60 214.15 L446.40 213.97 L448.19 213.79 L449.99 213.60 L451.79 213.41 L453.58 213.22 L455.38 213.03 L457.17 212.84 L458.97 212.64 L460.77 212.44 L462.56 212.24 L464.36 212.04 L466.16 211.83 L467.95 211.62 L469.75 211.41 L471.54 211.20 L473.34 210.99 L475.14 210.77 L476.93 210.55 L478.73 210.33 L480.53 210.10 L482.32 209.88 L484.12 209.65 L485.91 209.41 L487.71 209.18 L489.51 208.94 L491.30 208.70 L493.10 208.46 L494.90 208.21 L496.69 207.96 L498.49 207.71 L500.28 207.46 L502.08 207.20 L503.88 206.94 L505.67 206.68 L507.47 206.41 L509.27 206.14 L511.06 205.87 L512.86 205.59 L514.65 205.32 L516.45 205.04 L518.25 204.75 L520.04 204.46 L521.84 204.17 L523.64 203.88 L525.43 203.58 L527.23 203.28 L529.02 202.98 L530.82 202.67 L532.62 202.36 L534.41 202.04 L536.21 201.73 L538.01 201.40 L539.80 201.08 L541.60 200.75 L543.39 200.42 L545.19 200.08 L546.99 199.74 L548.78 199.40 L550.58 199.05 L552.38 198.70 L554.17 198.35 L555.97 197.99 L557.76 197.63 L559.56 197.26 L561.36 196.89 L563.15 196.51 L564.95 196.13 L566.75 195.75 L568.54 195.36 L570.34 194.97 L572.13 194.57 L573.93 194.17 L575.73 193.77 L577.52 193.36 L579.32 192.95 L581.12 192.53 L582.91 192.10 L584.71 191.68 L586.50 191.24 L588.30 190.81 L590.10 190.36 L591.89 189.92 L593.69 189.47 L595.48 189.01 L597.28 188.55 L599.08 188.08 L600.87 187.61 L602.67 187.13 L604.47 186.65 L606.26 186.16 L608.06 185.67 L609.85 185.17 L611.65 184.67 L613.45 184.16 L615.24 183.65 L617.04 183.13 L618.84 182.60 L620.63 182.07 L622.43 181.53 L624.22 180.99 L626.02 180.44 L627.82 179.89 L629.61 179.33 L631.41 178.76 L633.21 178.19 L635.00 177.61 L636.80 177.03 L638.59 176.44 L640.39 175.84 L642.19 175.24 L643.98 174.63 L645.78 174.01 L647.58 173.39 L649.37 172.76 L651.17 172.12 L652.96 171.48 L654.76 170.83 L656.56 170.17 L658.35 169.51 L660.15 168.84 L661.95 168.16 L663.74 167.48 L665.54 166.78 L667.33 166.09 L669.13 165.38 L670.93 164.67 L672.72 163.95 L674.52 163.22 L676.32 162.48 L678.11 161.74 L679.91 160.99 L681.70 160.23 L683.50 159.46 L685.30 158.69 L687.09 157.90 L688.89 157.11 L690.69 156.31 L692.48 155.51 L694.28 154.69 L696.07 153.87 L697.87 153.04 L699.67 152.20 L701.46 151.35 L703.26 150.49 L705.06 149.63 L706.85 148.75 L708.65 147.87 L710.44 146.98 L712.24 146.08 L714.04 145.17 L715.83 144.25 L717.63 143.32 L719.43 142.39 L721.22 141.44 L723.02 140.48 L724.81 139.52 L726.61 138.55 L728.41 137.56 L730.20 136.57 L732.00 135.57 L733.80 134.55 L735.59 133.53 L737.39 132.50 L739.18 131.46 L740.98 130.41 L742.78 129.35 L744.57 128.28 L746.37 127.19 L748.17 126.10 L749.96 125.00 L751.76 123.89 L753.55 122.77 L755.35 121.63 L757.15 120.49 L758.94 119.34 L760.74 118.17 L762.54 117.00 L764.33 115.81 L766.13 114.62 L767.92 113.41 L769.72 112.19 L771.52 110.96 L773.31 109.73 L775.11 108.48 L776.91 107.21 L778.70 105.94 L780.50 104.66 L782.29 103.37 L784.09 102.06 L785.89 100.75 L787.68 99.42 L789.48 98.08 L791.28 96.73 L793.07 95.37 L794.87 94.00 L796.66 92.62 L798.46 91.22 L800.26 89.82 L802.05 88.40 L803.85 86.98 L805.65 85.54 L807.44 84.09 L809.24 82.63 L811.03 81.15 L812.83 79.67 L814.63 78.18 L816.42 76.67 L818.22 75.15 L820.02 73.63 L821.81 72.09 L823.61 70.54 L825.40 68.98 L827.20 67.41" fill="none" stroke="#00f000" stroke-width="1.7" stroke-dasharray="9.95 4.87"/>
</g>
<path d="M788.78 76.65 V120.57 M784.98 76.65 H792.58 M784.98 120.57 H792.58 M785.08 98.61 H792.48 M680.91 140.69 V184.61 M677.11 140.69 H684.71 M677.11 184.61 H684.71 M677.21 162.65 H684.61 M573.03 172.78 V216.71 M569.23 172.78 H576.83 M569.23 216.71 H576.83 M569.33 194.74 H576.73 M465.16 188.79 V232.71 M461.36 188.79 H468.96 M461.36 232.71 H468.96 M461.46 210.75 H468.86 M357.28 193.29 V237.21 M353.48 193.29 H361.08 M353.48 237.21 H361.08 M353.58 215.25 H360.98 M249.41 201.29 V245.21 M245.61 201.29 H253.21 M245.61 245.21 H253.21 M245.71 223.25 H253.11 M141.54 202.18 V246.11 M137.74 202.18 H145.34 M137.74 246.11 H145.34 M137.84 224.14 H145.24" fill="none" stroke="#ff1010" stroke-width="1.8"/>
<path d="M253.10 447.40 v-7.6 M253.10 12.50 v7.6 M611.45 447.40 v-7.6 M611.45 12.50 v7.6 M145.23 447.40 v-4.4 M145.23 12.50 v4.4 M173.60 447.40 v-4.4 M173.60 12.50 v4.4 M197.59 447.40 v-4.4 M197.59 12.50 v4.4 M218.37 447.40 v-4.4 M218.37 12.50 v4.4 M236.70 447.40 v-4.4 M236.70 12.50 v4.4 M360.98 447.40 v-4.4 M360.98 12.50 v4.4 M424.08 447.40 v-4.4 M424.08 12.50 v4.4 M468.85 447.40 v-4.4 M468.85 12.50 v4.4 M503.58 447.40 v-4.4 M503.58 12.50 v4.4 M531.95 447.40 v-4.4 M531.95 12.50 v4.4 M555.94 447.40 v-4.4 M555.94 12.50 v4.4 M576.72 447.40 v-4.4 M576.72 12.50 v4.4 M595.05 447.40 v-4.4 M595.05 12.50 v4.4 M719.33 447.40 v-4.4 M719.33 12.50 v4.4 M782.43 447.40 v-4.4 M782.43 12.50 v4.4 M110.50 121.23 h7.6 M827.20 121.23 h-7.6 M110.50 229.95 h7.6 M827.20 229.95 h-7.6 M110.50 338.68 h7.6 M827.20 338.68 h-7.6" fill="none" stroke="#000" stroke-width="2.4"/>
<rect x="110.50" y="12.50" width="716.70" height="434.90" fill="none" stroke="#000" stroke-width="2.60"/>
<rect x="138.20" y="27.70" width="258.80" height="153.40" fill="#fff"/>
<g clip-path="url(#ci)">
<path d="M138.21 155.69 L139.07 156.12 L139.94 156.55 L140.80 156.99 L141.67 157.42 L142.53 157.85 L143.40 158.29 L144.27 158.72 L145.13 159.15 L146.00 159.59 L146.86 160.02 L147.73 160.46 L148.59 160.89 L149.46 161.32 L150.32 161.76 L151.19 162.19 L152.05 162.62 L152.92 163.06 L153.79 163.49 L154.65 163.92 L155.52 164.36 L156.38 164.79 L157.25 165.22 L158.11 165.66 L158.98 166.09 L159.84 166.52 L160.71 166.96 L161.58 167.39 L162.44 167.83 L163.31 168.26 L164.17 168.69 L165.04 169.13 L165.90 169.56 L166.77 169.99 L167.63 170.43 L168.50 170.86 L169.37 171.29 L170.23 171.73 L171.10 172.16 L171.96 172.59 L172.83 173.03 L173.69 173.46 L174.56 173.89 L175.42 174.33 L176.29 174.76 L177.16 175.19 L178.02 175.63 L178.89 176.06 L179.75 176.50 L180.62 176.93 L181.48 177.36 L182.35 177.80 L183.21 178.23 L184.08 178.66 L184.95 179.10 L185.81 179.53 L186.68 179.96 L187.54 180.40 L188.41 180.83 L189.27 181.26 L190.14 181.70 L191.00 182.13 L191.87 182.56 L192.73 183.00 L193.60 183.43 L194.47 183.87 L195.33 184.30 L196.20 184.73 L197.06 185.17 L197.93 185.60 L198.79 186.03 L199.66 186.47 L200.52 186.90 L201.39 187.33 L202.26 187.77 L203.12 188.20 L203.99 188.63 L204.85 189.07 L205.72 189.50 L206.58 189.93 L207.45 190.37 L208.31 190.80 L209.18 191.23 L210.05 191.67 L210.91 192.10 L211.78 192.54 L212.64 192.97 L213.51 193.40 L214.37 193.84 L215.24 194.27 L216.10 194.70 L216.97 195.14 L217.84 195.57 L218.70 196.00 L219.57 196.44 L220.43 196.87 L221.30 197.30 L222.16 197.74 L223.03 198.17 L223.89 198.60 L224.76 199.04 L225.63 199.47 L226.49 199.91 L227.36 200.34 L228.22 200.77 L229.09 201.21 L229.95 201.64 L230.82 202.07 L231.68 202.51 L232.55 202.94 L233.41 203.37 L234.28 203.81 L235.15 204.24 L236.01 204.67 L236.88 205.11 L237.74 205.54 L238.61 205.97 L239.47 206.41 L240.34 206.84 L241.20 207.28 L242.07 207.71 L242.94 208.14 L243.80 208.58 L244.67 209.01 L245.53 209.44 L246.40 209.88 L247.26 210.31 L248.13 210.74 L248.99 211.18 L249.86 211.61 L250.73 212.04 L251.59 212.48 L252.46 212.91 L253.32 213.34 L254.19 213.78 L255.05 214.21 L255.92 214.64 L256.78 215.08 L257.65 215.51 L258.52 215.95 L259.38 216.38 L260.25 216.81 L261.11 217.25 L261.98 217.68 L262.84 218.11 L263.71 218.55 L264.57 218.98 L265.44 219.41 L266.30 219.85 L267.17 220.28 L268.04 220.71 L268.90 221.15 L269.77 221.58 L270.63 222.01 L271.50 222.45 L272.36 222.88 L273.23 223.32 L274.09 223.75 L274.96 224.18 L275.83 224.62 L276.69 225.05 L277.56 225.48 L278.42 225.92 L279.29 226.35 L280.15 226.78 L281.02 227.22 L281.88 227.65 L282.75 228.08 L283.62 228.52 L284.48 228.95 L285.35 229.38 L286.21 229.82 L287.08 230.25 L287.94 230.68 L288.81 231.12 L289.67 231.55 L290.54 231.99 L291.41 232.42 L292.27 232.85 L293.14 233.29 L294.00 233.72 L294.87 234.15 L295.73 234.59 L296.60 235.02 L297.46 235.45 L298.33 235.89 L299.20 236.32 L300.06 236.75 L300.93 237.19 L301.79 237.62 L302.66 238.05 L303.52 238.49 L304.39 238.92 L305.25 239.36 L306.12 239.79 L306.98 240.22 L307.85 240.66 L308.72 241.09 L309.58 241.52 L310.45 241.96 L311.31 242.39 L312.18 242.82 L313.04 243.26 L313.91 243.69 L314.77 244.12 L315.64 244.56 L316.51 244.99 L317.37 245.42 L318.24 245.86 L319.10 246.29 L319.97 246.73 L320.83 247.16 L321.70 247.59 L322.56 248.03 L323.43 248.46 L324.30 248.89 L325.16 249.33 L326.03 249.76 L326.89 250.19 L327.76 250.63 L328.62 251.06 L329.49 251.49 L330.35 251.93 L331.22 252.36 L332.09 252.79 L332.95 253.23 L333.82 253.66 L334.68 254.09 L335.55 254.53 L336.41 254.96 L337.28 255.40 L338.14 255.83 L339.01 256.26 L339.88 256.70 L340.74 257.13 L341.61 257.56 L342.47 258.00 L343.34 258.43 L344.20 258.86 L345.07 259.30 L345.93 259.73 L346.80 260.16 L347.66 260.60 L348.53 261.03 L349.40 261.46 L350.26 261.90 L351.13 262.33 L351.99 262.77 L352.86 263.20 L353.72 263.63 L354.59 264.07 L355.45 264.50 L356.32 264.93 L357.19 265.37 L358.05 265.80 L358.92 266.23 L359.78 266.67 L360.65 267.10 L361.51 267.53 L362.38 267.97 L363.24 268.40 L364.11 268.83 L364.98 269.27 L365.84 269.70 L366.71 270.13 L367.57 270.57 L368.44 271.00 L369.30 271.44 L370.17 271.87 L371.03 272.30 L371.90 272.74 L372.77 273.17 L373.63 273.60 L374.50 274.04 L375.36 274.47 L376.23 274.90 L377.09 275.34 L377.96 275.77 L378.82 276.20 L379.69 276.64 L380.55 277.07 L381.42 277.50 L382.29 277.94 L383.15 278.37 L384.02 278.81 L384.88 279.24 L385.75 279.67 L386.61 280.11 L387.48 280.54 L388.34 280.97 L389.21 281.41 L390.08 281.84 L390.94 282.27 L391.81 282.71 L392.67 283.14 L393.54 283.57 L394.40 284.01 L395.27 284.44 L396.13 284.87 L397.00 285.31 L397.00 615.49 L396.13 613.96 L395.27 612.42 L394.40 610.88 L393.54 609.34 L392.67 607.80 L391.81 606.27 L390.94 604.73 L390.08 603.19 L389.21 601.65 L388.34 600.12 L387.48 598.58 L386.61 597.04 L385.75 595.50 L384.88 593.96 L384.02 592.43 L383.15 590.89 L382.29 589.35 L381.42 587.81 L380.55 586.28 L379.69 584.74 L378.82 583.20 L377.96 581.66 L377.09 580.12 L376.23 578.59 L375.36 577.05 L374.50 575.51 L373.63 573.97 L372.77 572.44 L371.90 570.90 L371.03 569.36 L370.17 567.82 L369.30 566.28 L368.44 564.75 L367.57 563.21 L366.71 561.67 L365.84 560.13 L364.98 558.60 L364.11 557.06 L363.24 555.52 L362.38 553.98 L361.51 552.44 L360.65 550.91 L359.78 549.37 L358.92 547.83 L358.05 546.29 L357.19 544.76 L356.32 543.22 L355.45 541.68 L354.59 540.14 L353.72 538.60 L352.86 537.07 L351.99 535.53 L351.13 533.99 L350.26 532.45 L349.40 530.92 L348.53 529.38 L347.66 527.84 L346.80 526.30 L345.93 524.76 L345.07 523.23 L344.20 521.69 L343.34 520.15 L342.47 518.61 L341.61 517.08 L340.74 515.54 L339.88 514.00 L339.01 512.46 L338.14 510.92 L337.28 509.39 L336.41 507.85 L335.55 506.31 L334.68 504.77 L333.82 503.24 L332.95 501.70 L332.09 500.16 L331.22 498.62 L330.35 497.08 L329.49 495.55 L328.62 494.01 L327.76 492.47 L326.89 490.93 L326.03 489.39 L325.16 487.86 L324.30 486.32 L323.43 484.78 L322.56 483.24 L321.70 481.71 L320.83 480.17 L319.97 478.63 L319.10 477.09 L318.24 475.55 L317.37 474.02 L316.51 472.48 L315.64 470.94 L314.77 469.40 L313.91 467.87 L313.04 466.33 L312.18 464.79 L311.31 463.25 L310.45 461.71 L309.58 460.18 L308.72 458.64 L307.85 457.10 L306.98 455.56 L306.12 454.03 L305.25 452.49 L304.39 450.95 L303.52 449.41 L302.66 447.87 L301.79 446.34 L300.93 444.80 L300.06 443.26 L299.20 441.72 L298.33 440.19 L297.46 438.65 L296.60 437.11 L295.73 435.57 L294.87 434.03 L294.00 432.50 L293.14 430.96 L292.27 429.42 L291.41 427.88 L290.54 426.35 L289.67 424.81 L288.81 423.27 L287.94 421.73 L287.08 420.19 L286.21 418.66 L285.35 417.12 L284.48 415.58 L283.62 414.04 L282.75 412.51 L281.88 410.97 L281.02 409.43 L280.15 407.89 L279.29 406.35 L278.42 404.82 L277.56 403.28 L276.69 401.74 L275.83 400.20 L274.96 398.67 L274.09 397.13 L273.23 395.59 L272.36 394.05 L271.50 392.51 L270.63 390.98 L269.77 389.44 L268.90 387.90 L268.04 386.36 L267.17 384.83 L266.30 383.29 L265.44 381.75 L264.57 380.21 L263.71 378.67 L262.84 377.14 L261.98 375.60 L261.11 374.06 L260.25 372.52 L259.38 370.99 L258.52 369.45 L257.65 367.91 L256.78 366.37 L255.92 364.83 L255.05 363.30 L254.19 361.76 L253.32 360.22 L252.46 358.68 L251.59 357.15 L250.73 355.61 L249.86 354.07 L248.99 352.53 L248.13 350.99 L247.26 349.46 L246.40 347.92 L245.53 346.38 L244.67 344.84 L243.80 343.31 L242.94 341.77 L242.07 340.23 L241.20 338.69 L240.34 337.15 L239.47 335.62 L238.61 334.08 L237.74 332.54 L236.88 331.00 L236.01 329.46 L235.15 327.93 L234.28 326.39 L233.41 324.85 L232.55 323.31 L231.68 321.78 L230.82 320.24 L229.95 318.70 L229.09 317.16 L228.22 315.62 L227.36 314.09 L226.49 312.55 L225.63 311.01 L224.76 309.47 L223.89 307.94 L223.03 306.40 L222.16 304.86 L221.30 303.32 L220.43 301.78 L219.57 300.25 L218.70 298.71 L217.84 297.17 L216.97 295.63 L216.10 294.10 L215.24 292.56 L214.37 291.02 L213.51 289.48 L212.64 287.94 L211.78 286.41 L210.91 284.87 L210.05 283.33 L209.18 281.79 L208.31 280.26 L207.45 278.72 L206.58 277.18 L205.72 275.64 L204.85 274.10 L203.99 272.57 L203.12 271.03 L202.26 269.49 L201.39 267.95 L200.52 266.42 L199.66 264.88 L198.79 263.34 L197.93 261.80 L197.06 260.26 L196.20 258.73 L195.33 257.19 L194.47 255.65 L193.60 254.11 L192.73 252.58 L191.87 251.04 L191.00 249.50 L190.14 247.96 L189.27 246.42 L188.41 244.89 L187.54 243.35 L186.68 241.81 L185.81 240.27 L184.95 238.74 L184.08 237.20 L183.21 235.66 L182.35 234.12 L181.48 232.58 L180.62 231.05 L179.75 229.51 L178.89 227.97 L178.02 226.43 L177.16 224.90 L176.29 223.36 L175.42 221.82 L174.56 220.28 L173.69 218.74 L172.83 217.21 L171.96 215.67 L171.10 214.13 L170.23 212.59 L169.37 211.06 L168.50 209.52 L167.63 207.98 L166.77 206.44 L165.90 204.90 L165.04 203.37 L164.17 201.83 L163.31 200.29 L162.44 198.75 L161.58 197.22 L160.71 195.68 L159.84 194.14 L158.98 192.60 L158.11 191.06 L157.25 189.53 L156.38 187.99 L155.52 186.45 L154.65 184.91 L153.79 183.38 L152.92 181.84 L152.05 180.30 L151.19 178.76 L150.32 177.22 L149.46 175.69 L148.59 174.15 L147.73 172.61 L146.86 171.07 L146.00 169.53 L145.13 168.00 L144.27 166.46 L143.40 164.92 L142.53 163.38 L141.67 161.85 L140.80 160.31 L139.94 158.77 L139.07 157.23 L138.21 155.69 Z" fill="#d9d9ff"/>
<path d="M138.21 155.68 L139.07 155.12 L139.94 154.56 L140.80 154.01 L141.67 153.46 L142.53 152.92 L143.40 152.38 L144.27 151.85 L145.13 151.32 L146.00 150.79 L146.86 150.27 L147.73 149.75 L148.59 149.24 L149.46 148.73 L150.32 148.22 L151.19 147.72 L152.05 147.22 L152.92 146.72 L153.79 146.22 L154.65 145.73 L155.52 145.24 L156.38 144.76 L157.25 144.27 L158.11 143.79 L158.98 143.31 L159.84 142.84 L160.71 142.37 L161.58 141.89 L162.44 141.43 L163.31 140.96 L164.17 140.50 L165.04 140.03 L165.90 139.57 L166.77 139.11 L167.63 138.66 L168.50 138.20 L169.37 137.75 L170.23 137.30 L171.10 136.85 L171.96 136.40 L172.83 135.96 L173.69 135.52 L174.56 135.07 L175.42 134.63 L176.29 134.19 L177.16 133.76 L178.02 133.32 L178.89 132.88 L179.75 132.45 L180.62 132.02 L181.48 131.59 L182.35 131.16 L183.21 130.73 L184.08 130.31 L184.95 129.88 L185.81 129.46 L186.68 129.03 L187.54 128.61 L188.41 128.19 L189.27 127.77 L190.14 127.36 L191.00 126.94 L191.87 126.53 L192.73 126.11 L193.60 125.70 L194.47 125.29 L195.33 124.88 L196.20 124.47 L197.06 124.06 L197.93 123.65 L198.79 123.25 L199.66 122.84 L200.52 122.44 L201.39 122.04 L202.26 121.64 L203.12 121.24 L203.99 120.84 L204.85 120.44 L205.72 120.05 L206.58 119.65 L207.45 119.26 L208.31 118.87 L209.18 118.48 L210.05 118.09 L210.91 117.70 L211.78 117.31 L212.64 116.92 L213.51 116.54 L214.37 116.15 L215.24 115.77 L216.10 115.39 L216.97 115.01 L217.84 114.63 L218.70 114.25 L219.57 113.88 L220.43 113.50 L221.30 113.13 L222.16 112.75 L223.03 112.38 L223.89 112.01 L224.76 111.64 L225.63 111.28 L226.49 110.91 L227.36 110.54 L228.22 110.18 L229.09 109.82 L229.95 109.45 L230.82 109.09 L231.68 108.73 L232.55 108.38 L233.41 108.02 L234.28 107.66 L235.15 107.31 L236.01 106.95 L236.88 106.60 L237.74 106.25 L238.61 105.90 L239.47 105.55 L240.34 105.21 L241.20 104.86 L242.07 104.51 L242.94 104.17 L243.80 103.83 L244.67 103.49 L245.53 103.15 L246.40 102.81 L247.26 102.47 L248.13 102.13 L248.99 101.79 L249.86 101.46 L250.73 101.12 L251.59 100.79 L252.46 100.46 L253.32 100.13 L254.19 99.80 L255.05 99.47 L255.92 99.14 L256.78 98.81 L257.65 98.48 L258.52 98.16 L259.38 97.83 L260.25 97.51 L261.11 97.18 L261.98 96.86 L262.84 96.54 L263.71 96.22 L264.57 95.90 L265.44 95.58 L266.30 95.26 L267.17 94.94 L268.04 94.62 L268.90 94.30 L269.77 93.98 L270.63 93.67 L271.50 93.35 L272.36 93.03 L273.23 92.72 L274.09 92.40 L274.96 92.09 L275.83 91.77 L276.69 91.46 L277.56 91.14 L278.42 90.83 L279.29 90.52 L280.15 90.20 L281.02 89.89 L281.88 89.57 L282.75 89.26 L283.62 88.94 L284.48 88.63 L285.35 88.31 L286.21 88.00 L287.08 87.68 L287.94 87.37 L288.81 87.05 L289.67 86.74 L290.54 86.42 L291.41 86.10 L292.27 85.78 L293.14 85.47 L294.00 85.15 L294.87 84.83 L295.73 84.51 L296.60 84.18 L297.46 83.86 L298.33 83.54 L299.20 83.22 L300.06 82.89 L300.93 82.57 L301.79 82.24 L302.66 81.91 L303.52 81.58 L304.39 81.25 L305.25 80.92 L306.12 80.59 L306.98 80.25 L307.85 79.92 L308.72 79.58 L309.58 79.24 L310.45 78.90 L311.31 78.56 L312.18 78.21 L313.04 77.87 L313.91 77.52 L314.77 77.17 L315.64 76.82 L316.51 76.47 L317.37 76.12 L318.24 75.76 L319.10 75.40 L319.97 75.04 L320.83 74.68 L321.70 74.31 L322.56 73.95 L323.43 73.58 L324.30 73.21 L325.16 72.84 L326.03 72.46 L326.89 72.08 L327.76 71.70 L328.62 71.32 L329.49 70.93 L330.35 70.54 L331.22 70.15 L332.09 69.76 L332.95 69.37 L333.82 68.97 L334.68 68.57 L335.55 68.16 L336.41 67.76 L337.28 67.35 L338.14 66.94 L339.01 66.52 L339.88 66.11 L340.74 65.69 L341.61 65.26 L342.47 64.84 L343.34 64.41 L344.20 63.98 L345.07 63.54 L345.93 63.11 L346.80 62.67 L347.66 62.22 L348.53 61.78 L349.40 61.33 L350.26 60.88 L351.13 60.42 L351.99 59.97 L352.86 59.51 L353.72 59.04 L354.59 58.58 L355.45 58.11 L356.32 57.64 L357.19 57.16 L358.05 56.69 L358.92 56.21 L359.78 55.73 L360.65 55.24 L361.51 54.76 L362.38 54.27 L363.24 53.77 L364.11 53.28 L364.98 52.78 L365.84 52.28 L366.71 51.78 L367.57 51.28 L368.44 50.77 L369.30 50.26 L370.17 49.75 L371.03 49.24 L371.90 48.73 L372.77 48.21 L373.63 47.69 L374.50 47.17 L375.36 46.65 L376.23 46.13 L377.09 45.61 L377.96 45.08 L378.82 44.56 L379.69 44.03 L380.55 43.50 L381.42 42.97 L382.29 42.44 L383.15 41.92 L384.02 41.39 L384.88 40.86 L385.75 40.33 L386.61 39.80 L387.48 39.27 L388.34 38.74 L389.21 38.21 L390.08 37.68 L390.94 37.15 L391.81 36.63 L392.67 36.10 L393.54 35.58 L394.40 35.06 L395.27 34.54 L396.13 34.02 L397.00 33.51 L397.00 87.79 L396.13 87.80 L395.27 87.80 L394.40 87.80 L393.54 87.80 L392.67 87.80 L391.81 87.80 L390.94 87.80 L390.08 87.79 L389.21 87.79 L388.34 87.79 L387.48 87.78 L386.61 87.78 L385.75 87.78 L384.88 87.77 L384.02 87.77 L383.15 87.77 L382.29 87.77 L381.42 87.77 L380.55 87.77 L379.69 87.77 L378.82 87.78 L377.96 87.78 L377.09 87.79 L376.23 87.80 L375.36 87.81 L374.50 87.83 L373.63 87.84 L372.77 87.86 L371.90 87.88 L371.03 87.91 L370.17 87.94 L369.30 87.96 L368.44 88.00 L367.57 88.03 L366.71 88.07 L365.84 88.11 L364.98 88.16 L364.11 88.20 L363.24 88.25 L362.38 88.31 L361.51 88.37 L360.65 88.43 L359.78 88.49 L358.92 88.56 L358.05 88.63 L357.19 88.71 L356.32 88.79 L355.45 88.87 L354.59 88.96 L353.72 89.05 L352.86 89.14 L351.99 89.24 L351.13 89.34 L350.26 89.45 L349.40 89.56 L348.53 89.67 L347.66 89.79 L346.80 89.91 L345.93 90.04 L345.07 90.17 L344.20 90.30 L343.34 90.44 L342.47 90.58 L341.61 90.72 L340.74 90.87 L339.88 91.03 L339.01 91.18 L338.14 91.34 L337.28 91.51 L336.41 91.68 L335.55 91.85 L334.68 92.03 L333.82 92.21 L332.95 92.39 L332.09 92.58 L331.22 92.77 L330.35 92.96 L329.49 93.16 L328.62 93.37 L327.76 93.57 L326.89 93.78 L326.03 93.99 L325.16 94.21 L324.30 94.43 L323.43 94.66 L322.56 94.88 L321.70 95.11 L320.83 95.35 L319.97 95.58 L319.10 95.82 L318.24 96.07 L317.37 96.31 L316.51 96.56 L315.64 96.82 L314.77 97.07 L313.91 97.33 L313.04 97.59 L312.18 97.86 L311.31 98.12 L310.45 98.39 L309.58 98.67 L308.72 98.94 L307.85 99.22 L306.98 99.50 L306.12 99.78 L305.25 100.07 L304.39 100.36 L303.52 100.65 L302.66 100.94 L301.79 101.24 L300.93 101.53 L300.06 101.83 L299.20 102.13 L298.33 102.43 L297.46 102.74 L296.60 103.05 L295.73 103.36 L294.87 103.67 L294.00 103.98 L293.14 104.29 L292.27 104.61 L291.41 104.92 L290.54 105.24 L289.67 105.56 L288.81 105.88 L287.94 106.21 L287.08 106.53 L286.21 106.86 L285.35 107.18 L284.48 107.51 L283.62 107.84 L282.75 108.17 L281.88 108.50 L281.02 108.83 L280.15 109.16 L279.29 109.49 L278.42 109.83 L277.56 110.16 L276.69 110.50 L275.83 110.83 L274.96 111.17 L274.09 111.51 L273.23 111.84 L272.36 112.18 L271.50 112.52 L270.63 112.86 L269.77 113.20 L268.90 113.53 L268.04 113.87 L267.17 114.21 L266.30 114.55 L265.44 114.89 L264.57 115.23 L263.71 115.57 L262.84 115.91 L261.98 116.24 L261.11 116.58 L260.25 116.92 L259.38 117.26 L258.52 117.60 L257.65 117.93 L256.78 118.27 L255.92 118.61 L255.05 118.94 L254.19 119.28 L253.32 119.61 L252.46 119.95 L251.59 120.28 L250.73 120.61 L249.86 120.95 L248.99 121.28 L248.13 121.61 L247.26 121.94 L246.40 122.27 L245.53 122.60 L244.67 122.93 L243.80 123.25 L242.94 123.58 L242.07 123.91 L241.20 124.23 L240.34 124.55 L239.47 124.88 L238.61 125.20 L237.74 125.52 L236.88 125.84 L236.01 126.16 L235.15 126.47 L234.28 126.79 L233.41 127.11 L232.55 127.42 L231.68 127.73 L230.82 128.05 L229.95 128.36 L229.09 128.67 L228.22 128.98 L227.36 129.28 L226.49 129.59 L225.63 129.90 L224.76 130.20 L223.89 130.50 L223.03 130.81 L222.16 131.11 L221.30 131.41 L220.43 131.70 L219.57 132.00 L218.70 132.30 L217.84 132.59 L216.97 132.88 L216.10 133.18 L215.24 133.47 L214.37 133.76 L213.51 134.05 L212.64 134.33 L211.78 134.62 L210.91 134.91 L210.05 135.19 L209.18 135.47 L208.31 135.75 L207.45 136.04 L206.58 136.31 L205.72 136.59 L204.85 136.87 L203.99 137.15 L203.12 137.42 L202.26 137.69 L201.39 137.97 L200.52 138.24 L199.66 138.51 L198.79 138.78 L197.93 139.05 L197.06 139.31 L196.20 139.58 L195.33 139.85 L194.47 140.11 L193.60 140.37 L192.73 140.64 L191.87 140.90 L191.00 141.16 L190.14 141.42 L189.27 141.68 L188.41 141.93 L187.54 142.19 L186.68 142.45 L185.81 142.70 L184.95 142.96 L184.08 143.21 L183.21 143.46 L182.35 143.71 L181.48 143.96 L180.62 144.21 L179.75 144.46 L178.89 144.71 L178.02 144.96 L177.16 145.21 L176.29 145.45 L175.42 145.70 L174.56 145.95 L173.69 146.19 L172.83 146.43 L171.96 146.68 L171.10 146.92 L170.23 147.16 L169.37 147.40 L168.50 147.64 L167.63 147.88 L166.77 148.12 L165.90 148.36 L165.04 148.60 L164.17 148.84 L163.31 149.08 L162.44 149.31 L161.58 149.55 L160.71 149.78 L159.84 150.02 L158.98 150.25 L158.11 150.49 L157.25 150.72 L156.38 150.95 L155.52 151.18 L154.65 151.42 L153.79 151.65 L152.92 151.88 L152.05 152.11 L151.19 152.33 L150.32 152.56 L149.46 152.79 L148.59 153.02 L147.73 153.24 L146.86 153.47 L146.00 153.69 L145.13 153.92 L144.27 154.14 L143.40 154.36 L142.53 154.59 L141.67 154.81 L140.80 155.03 L139.94 155.25 L139.07 155.46 L138.21 155.68 Z" fill="#d9ffd9"/>
<line x1="138.20" y1="155.68" x2="397.00" y2="155.68" stroke="#8c8c8c" stroke-width="0.75" stroke-dasharray="4.2 1.3 1.3 1.3"/>
<path d="M138.21 155.69 L139.07 156.12 L139.94 156.55 L140.80 156.99 L141.67 157.42 L142.53 157.85 L143.40 158.29 L144.27 158.72 L145.13 159.15 L146.00 159.59 L146.86 160.02 L147.73 160.46 L148.59 160.89 L149.46 161.32 L150.32 161.76 L151.19 162.19 L152.05 162.62 L152.92 163.06 L153.79 163.49 L154.65 163.92 L155.52 164.36 L156.38 164.79 L157.25 165.22 L158.11 165.66 L158.98 166.09 L159.84 166.52 L160.71 166.96 L161.58 167.39 L162.44 167.83 L163.31 168.26 L164.17 168.69 L165.04 169.13 L165.90 169.56 L166.77 169.99 L167.63 170.43 L168.50 170.86 L169.37 171.29 L170.23 171.73 L171.10 172.16 L171.96 172.59 L172.83 173.03 L173.69 173.46 L174.56 173.89 L175.42 174.33 L176.29 174.76 L177.16 175.19 L178.02 175.63 L178.89 176.06 L179.75 176.50 L180.62 176.93 L181.48 177.36 L182.35 177.80 L183.21 178.23 L184.08 178.66 L184.95 179.10 L185.81 179.53 L186.68 179.96 L187.54 180.40 L188.41 180.83 L189.27 181.26 L190.14 181.70 L191.00 182.13 L191.87 182.56 L192.73 183.00 L193.60 183.43 L194.47 183.87 L195.33 184.30 L196.20 184.73 L197.06 185.17 L197.93 185.60 L198.79 186.03 L199.66 186.47 L200.52 186.90 L201.39 187.33 L202.26 187.77 L203.12 188.20 L203.99 188.63 L204.85 189.07 L205.72 189.50 L206.58 189.93 L207.45 190.37 L208.31 190.80 L209.18 191.23 L210.05 191.67 L210.91 192.10 L211.78 192.54 L212.64 192.97 L213.51 193.40 L214.37 193.84 L215.24 194.27 L216.10 194.70 L216.97 195.14 L217.84 195.57 L218.70 196.00 L219.57 196.44 L220.43 196.87 L221.30 197.30 L222.16 197.74 L223.03 198.17 L223.89 198.60 L224.76 199.04 L225.63 199.47 L226.49 199.91 L227.36 200.34 L228.22 200.77 L229.09 201.21 L229.95 201.64 L230.82 202.07 L231.68 202.51 L232.55 202.94 L233.41 203.37 L234.28 203.81 L235.15 204.24 L236.01 204.67 L236.88 205.11 L237.74 205.54 L238.61 205.97 L239.47 206.41 L240.34 206.84 L241.20 207.28 L242.07 207.71 L242.94 208.14 L243.80 208.58 L244.67 209.01 L245.53 209.44 L246.40 209.88 L247.26 210.31 L248.13 210.74 L248.99 211.18 L249.86 211.61 L250.73 212.04 L251.59 212.48 L252.46 212.91 L253.32 213.34 L254.19 213.78 L255.05 214.21 L255.92 214.64 L256.78 215.08 L257.65 215.51 L258.52 215.95 L259.38 216.38 L260.25 216.81 L261.11 217.25 L261.98 217.68 L262.84 218.11 L263.71 218.55 L264.57 218.98 L265.44 219.41 L266.30 219.85 L267.17 220.28 L268.04 220.71 L268.90 221.15 L269.77 221.58 L270.63 222.01 L271.50 222.45 L272.36 222.88 L273.23 223.32 L274.09 223.75 L274.96 224.18 L275.83 224.62 L276.69 225.05 L277.56 225.48 L278.42 225.92 L279.29 226.35 L280.15 226.78 L281.02 227.22 L281.88 227.65 L282.75 228.08 L283.62 228.52 L284.48 228.95 L285.35 229.38 L286.21 229.82 L287.08 230.25 L287.94 230.68 L288.81 231.12 L289.67 231.55 L290.54 231.99 L291.41 232.42 L292.27 232.85 L293.14 233.29 L294.00 233.72 L294.87 234.15 L295.73 234.59 L296.60 235.02 L297.46 235.45 L298.33 235.89 L299.20 236.32 L300.06 236.75 L300.93 237.19 L301.79 237.62 L302.66 238.05 L303.52 238.49 L304.39 238.92 L305.25 239.36 L306.12 239.79 L306.98 240.22 L307.85 240.66 L308.72 241.09 L309.58 241.52 L310.45 241.96 L311.31 242.39 L312.18 242.82 L313.04 243.26 L313.91 243.69 L314.77 244.12 L315.64 244.56 L316.51 244.99 L317.37 245.42 L318.24 245.86 L319.10 246.29 L319.97 246.73 L320.83 247.16 L321.70 247.59 L322.56 248.03 L323.43 248.46 L324.30 248.89 L325.16 249.33 L326.03 249.76 L326.89 250.19 L327.76 250.63 L328.62 251.06 L329.49 251.49 L330.35 251.93 L331.22 252.36 L332.09 252.79 L332.95 253.23 L333.82 253.66 L334.68 254.09 L335.55 254.53 L336.41 254.96 L337.28 255.40 L338.14 255.83 L339.01 256.26 L339.88 256.70 L340.74 257.13 L341.61 257.56 L342.47 258.00 L343.34 258.43 L344.20 258.86 L345.07 259.30 L345.93 259.73 L346.80 260.16 L347.66 260.60 L348.53 261.03 L349.40 261.46 L350.26 261.90 L351.13 262.33 L351.99 262.77 L352.86 263.20 L353.72 263.63 L354.59 264.07 L355.45 264.50 L356.32 264.93 L357.19 265.37 L358.05 265.80 L358.92 266.23 L359.78 266.67 L360.65 267.10 L361.51 267.53 L362.38 267.97 L363.24 268.40 L364.11 268.83 L364.98 269.27 L365.84 269.70 L366.71 270.13 L367.57 270.57 L368.44 271.00 L369.30 271.44 L370.17 271.87 L371.03 272.30 L371.90 272.74 L372.77 273.17 L373.63 273.60 L374.50 274.04 L375.36 274.47 L376.23 274.90 L377.09 275.34 L377.96 275.77 L378.82 276.20 L379.69 276.64 L380.55 277.07 L381.42 277.50 L382.29 277.94 L383.15 278.37 L384.02 278.81 L384.88 279.24 L385.75 279.67 L386.61 280.11 L387.48 280.54 L388.34 280.97 L389.21 281.41 L390.08 281.84 L390.94 282.27 L391.81 282.71 L392.67 283.14 L393.54 283.57 L394.40 284.01 L395.27 284.44 L396.13 284.87 L397.00 285.31" fill="none" stroke="#0a0aff" stroke-width="1.4" stroke-dasharray="14.43 4.81 2.71 5.21"/>
<path d="M138.21 155.69 L139.07 157.23 L139.94 158.77 L140.80 160.31 L141.67 161.85 L142.53 163.38 L143.40 164.92 L144.27 166.46 L145.13 168.00 L146.00 169.53 L146.86 171.07 L147.73 172.61 L148.59 174.15 L149.46 175.69 L150.32 177.22 L151.19 178.76 L152.05 180.30 L152.92 181.84 L153.79 183.38 L154.65 184.91 L155.52 186.45 L156.38 187.99 L157.25 189.53 L158.11 191.06 L158.98 192.60 L159.84 194.14 L160.71 195.68 L161.58 197.22 L162.44 198.75 L163.31 200.29 L164.17 201.83 L165.04 203.37 L165.90 204.90 L166.77 206.44 L167.63 207.98 L168.50 209.52 L169.37 211.06 L170.23 212.59 L171.10 214.13 L171.96 215.67 L172.83 217.21 L173.69 218.74 L174.56 220.28 L175.42 221.82 L176.29 223.36 L177.16 224.90 L178.02 226.43 L178.89 227.97 L179.75 229.51 L180.62 231.05 L181.48 232.58 L182.35 234.12 L183.21 235.66 L184.08 237.20 L184.95 238.74 L185.81 240.27 L186.68 241.81 L187.54 243.35 L188.41 244.89 L189.27 246.42 L190.14 247.96 L191.00 249.50 L191.87 251.04 L192.73 252.58 L193.60 254.11 L194.47 255.65 L195.33 257.19 L196.20 258.73 L197.06 260.26 L197.93 261.80 L198.79 263.34 L199.66 264.88 L200.52 266.42 L201.39 267.95 L202.26 269.49 L203.12 271.03 L203.99 272.57 L204.85 274.10 L205.72 275.64 L206.58 277.18 L207.45 278.72 L208.31 280.26 L209.18 281.79 L210.05 283.33 L210.91 284.87 L211.78 286.41 L212.64 287.94 L213.51 289.48 L214.37 291.02 L215.24 292.56 L216.10 294.10 L216.97 295.63 L217.84 297.17 L218.70 298.71 L219.57 300.25 L220.43 301.78 L221.30 303.32 L222.16 304.86 L223.03 306.40 L223.89 307.94 L224.76 309.47 L225.63 311.01 L226.49 312.55 L227.36 314.09 L228.22 315.62 L229.09 317.16 L229.95 318.70 L230.82 320.24 L231.68 321.78 L232.55 323.31 L233.41 324.85 L234.28 326.39 L235.15 327.93 L236.01 329.46 L236.88 331.00 L237.74 332.54 L238.61 334.08 L239.47 335.62 L240.34 337.15 L241.20 338.69 L242.07 340.23 L242.94 341.77 L243.80 343.31 L244.67 344.84 L245.53 346.38 L246.40 347.92 L247.26 349.46 L248.13 350.99 L248.99 352.53 L249.86 354.07 L250.73 355.61 L251.59 357.15 L252.46 358.68 L253.32 360.22 L254.19 361.76 L255.05 363.30 L255.92 364.83 L256.78 366.37 L257.65 367.91 L258.52 369.45 L259.38 370.99 L260.25 372.52 L261.11 374.06 L261.98 375.60 L262.84 377.14 L263.71 378.67 L264.57 380.21 L265.44 381.75 L266.30 383.29 L267.17 384.83 L268.04 386.36 L268.90 387.90 L269.77 389.44 L270.63 390.98 L271.50 392.51 L272.36 394.05 L273.23 395.59 L274.09 397.13 L274.96 398.67 L275.83 400.20 L276.69 401.74 L277.56 403.28 L278.42 404.82 L279.29 406.35 L280.15 407.89 L281.02 409.43 L281.88 410.97 L282.75 412.51 L283.62 414.04 L284.48 415.58 L285.35 417.12 L286.21 418.66 L287.08 420.19 L287.94 421.73 L288.81 423.27 L289.67 424.81 L290.54 426.35 L291.41 427.88 L292.27 429.42 L293.14 430.96 L294.00 432.50 L294.87 434.03 L295.73 435.57 L296.60 437.11 L297.46 438.65 L298.33 440.19 L299.20 441.72 L300.06 443.26 L300.93 444.80 L301.79 446.34 L302.66 447.87 L303.52 449.41 L304.39 450.95 L305.25 452.49 L306.12 454.03 L306.98 455.56 L307.85 457.10 L308.72 458.64 L309.58 460.18 L310.45 461.71 L311.31 463.25 L312.18 464.79 L313.04 466.33 L313.91 467.87 L314.77 469.40 L315.64 470.94 L316.51 472.48 L317.37 474.02 L318.24 475.55 L319.10 477.09 L319.97 478.63 L320.83 480.17 L321.70 481.71 L322.56 483.24 L323.43 484.78 L324.30 486.32 L325.16 487.86 L326.03 489.39 L326.89 490.93 L327.76 492.47 L328.62 494.01 L329.49 495.55 L330.35 497.08 L331.22 498.62 L332.09 500.16 L332.95 501.70 L333.82 503.24 L334.68 504.77 L335.55 506.31 L336.41 507.85 L337.28 509.39 L338.14 510.92 L339.01 512.46 L339.88 514.00 L340.74 515.54 L341.61 517.08 L342.47 518.61 L343.34 520.15 L344.20 521.69 L345.07 523.23 L345.93 524.76 L346.80 526.30 L347.66 527.84 L348.53 529.38 L349.40 530.92 L350.26 532.45 L351.13 533.99 L351.99 535.53 L352.86 537.07 L353.72 538.60 L354.59 540.14 L355.45 541.68 L356.32 543.22 L357.19 544.76 L358.05 546.29 L358.92 547.83 L359.78 549.37 L360.65 550.91 L361.51 552.44 L362.38 553.98 L363.24 555.52 L364.11 557.06 L364.98 558.60 L365.84 560.13 L366.71 561.67 L367.57 563.21 L368.44 564.75 L369.30 566.28 L370.17 567.82 L371.03 569.36 L371.90 570.90 L372.77 572.44 L373.63 573.97 L374.50 575.51 L375.36 577.05 L376.23 578.59 L377.09 580.12 L377.96 581.66 L378.82 583.20 L379.69 584.74 L380.55 586.28 L381.42 587.81 L382.29 589.35 L383.15 590.89 L384.02 592.43 L384.88 593.96 L385.75 595.50 L386.61 597.04 L387.48 598.58 L388.34 600.12 L389.21 601.65 L390.08 603.19 L390.94 604.73 L391.81 606.27 L392.67 607.80 L393.54 609.34 L394.40 610.88 L395.27 612.42 L396.13 613.96 L397.00 615.49" fill="none" stroke="#0a0aff" stroke-width="1.4" stroke-dasharray="14.43 4.81 2.71 5.21"/>
<path d="M138.21 155.68 L139.07 155.31 L139.94 154.95 L140.80 154.58 L141.67 154.22 L142.53 153.85 L143.40 153.49 L144.27 153.13 L145.13 152.76 L146.00 152.40 L146.86 152.04 L147.73 151.67 L148.59 151.31 L149.46 150.95 L150.32 150.59 L151.19 150.22 L152.05 149.86 L152.92 149.50 L153.79 149.14 L154.65 148.78 L155.52 148.42 L156.38 148.06 L157.25 147.70 L158.11 147.34 L158.98 146.98 L159.84 146.62 L160.71 146.26 L161.58 145.90 L162.44 145.55 L163.31 145.19 L164.17 144.83 L165.04 144.47 L165.90 144.12 L166.77 143.76 L167.63 143.41 L168.50 143.05 L169.37 142.69 L170.23 142.34 L171.10 141.98 L171.96 141.63 L172.83 141.27 L173.69 140.92 L174.56 140.57 L175.42 140.21 L176.29 139.86 L177.16 139.51 L178.02 139.15 L178.89 138.80 L179.75 138.45 L180.62 138.10 L181.48 137.75 L182.35 137.40 L183.21 137.05 L184.08 136.69 L184.95 136.34 L185.81 135.99 L186.68 135.65 L187.54 135.30 L188.41 134.95 L189.27 134.60 L190.14 134.25 L191.00 133.90 L191.87 133.55 L192.73 133.21 L193.60 132.86 L194.47 132.51 L195.33 132.17 L196.20 131.82 L197.06 131.47 L197.93 131.13 L198.79 130.78 L199.66 130.44 L200.52 130.09 L201.39 129.75 L202.26 129.41 L203.12 129.06 L203.99 128.72 L204.85 128.37 L205.72 128.03 L206.58 127.69 L207.45 127.35 L208.31 127.01 L209.18 126.66 L210.05 126.32 L210.91 125.98 L211.78 125.64 L212.64 125.30 L213.51 124.96 L214.37 124.62 L215.24 124.28 L216.10 123.94 L216.97 123.60 L217.84 123.26 L218.70 122.93 L219.57 122.59 L220.43 122.25 L221.30 121.91 L222.16 121.58 L223.03 121.24 L223.89 120.90 L224.76 120.57 L225.63 120.23 L226.49 119.90 L227.36 119.56 L228.22 119.23 L229.09 118.89 L229.95 118.56 L230.82 118.23 L231.68 117.89 L232.55 117.56 L233.41 117.23 L234.28 116.89 L235.15 116.56 L236.01 116.23 L236.88 115.90 L237.74 115.57 L238.61 115.24 L239.47 114.91 L240.34 114.57 L241.20 114.24 L242.07 113.92 L242.94 113.59 L243.80 113.26 L244.67 112.93 L245.53 112.60 L246.40 112.27 L247.26 111.94 L248.13 111.62 L248.99 111.29 L249.86 110.96 L250.73 110.64 L251.59 110.31 L252.46 109.98 L253.32 109.66 L254.19 109.33 L255.05 109.01 L255.92 108.68 L256.78 108.36 L257.65 108.04 L258.52 107.71 L259.38 107.39 L260.25 107.07 L261.11 106.74 L261.98 106.42 L262.84 106.10 L263.71 105.78 L264.57 105.46 L265.44 105.14 L266.30 104.82 L267.17 104.50 L268.04 104.18 L268.90 103.86 L269.77 103.54 L270.63 103.22 L271.50 102.90 L272.36 102.58 L273.23 102.26 L274.09 101.95 L274.96 101.63 L275.83 101.31 L276.69 101.00 L277.56 100.68 L278.42 100.36 L279.29 100.05 L280.15 99.73 L281.02 99.42 L281.88 99.10 L282.75 98.79 L283.62 98.47 L284.48 98.16 L285.35 97.85 L286.21 97.53 L287.08 97.22 L287.94 96.91 L288.81 96.60 L289.67 96.29 L290.54 95.97 L291.41 95.66 L292.27 95.35 L293.14 95.04 L294.00 94.73 L294.87 94.42 L295.73 94.11 L296.60 93.80 L297.46 93.50 L298.33 93.19 L299.20 92.88 L300.06 92.57 L300.93 92.27 L301.79 91.96 L302.66 91.65 L303.52 91.35 L304.39 91.04 L305.25 90.73 L306.12 90.43 L306.98 90.12 L307.85 89.82 L308.72 89.51 L309.58 89.21 L310.45 88.91 L311.31 88.60 L312.18 88.30 L313.04 88.00 L313.91 87.70 L314.77 87.39 L315.64 87.09 L316.51 86.79 L317.37 86.49 L318.24 86.19 L319.10 85.89 L319.97 85.59 L320.83 85.29 L321.70 84.99 L322.56 84.69 L323.43 84.40 L324.30 84.10 L325.16 83.80 L326.03 83.50 L326.89 83.20 L327.76 82.91 L328.62 82.61 L329.49 82.32 L330.35 82.02 L331.22 81.72 L332.09 81.43 L332.95 81.14 L333.82 80.84 L334.68 80.55 L335.55 80.25 L336.41 79.96 L337.28 79.67 L338.14 79.38 L339.01 79.08 L339.88 78.79 L340.74 78.50 L341.61 78.21 L342.47 77.92 L343.34 77.63 L344.20 77.34 L345.07 77.05 L345.93 76.76 L346.80 76.47 L347.66 76.18 L348.53 75.89 L349.40 75.60 L350.26 75.32 L351.13 75.03 L351.99 74.74 L352.86 74.46 L353.72 74.17 L354.59 73.88 L355.45 73.60 L356.32 73.31 L357.19 73.03 L358.05 72.74 L358.92 72.46 L359.78 72.18 L360.65 71.89 L361.51 71.61 L362.38 71.33 L363.24 71.04 L364.11 70.76 L364.98 70.48 L365.84 70.20 L366.71 69.92 L367.57 69.64 L368.44 69.36 L369.30 69.08 L370.17 68.80 L371.03 68.52 L371.90 68.24 L372.77 67.96 L373.63 67.69 L374.50 67.41 L375.36 67.13 L376.23 66.85 L377.09 66.58 L377.96 66.30 L378.82 66.02 L379.69 65.75 L380.55 65.47 L381.42 65.20 L382.29 64.92 L383.15 64.65 L384.02 64.38 L384.88 64.10 L385.75 63.83 L386.61 63.56 L387.48 63.29 L388.34 63.01 L389.21 62.74 L390.08 62.47 L390.94 62.20 L391.81 61.93 L392.67 61.66 L393.54 61.39 L394.40 61.12 L395.27 60.85 L396.13 60.58 L397.00 60.32" fill="none" stroke="#00f000" stroke-width="1.4" stroke-dasharray="9.95 4.87"/>
<path d="M340.39 65.74 V91.51 M338.79 65.74 H341.99 M338.79 91.51 H341.99 M338.89 78.62 H341.89 M239.29 103.31 V129.08 M237.69 103.31 H240.89 M237.69 129.08 H240.89 M237.79 116.20 H240.79 M188.75 122.14 V147.91 M187.15 122.14 H190.35 M187.15 147.91 H190.35 M187.25 135.03 H190.25 M163.47 131.53 V157.30 M161.87 131.53 H165.07 M161.87 157.30 H165.07 M161.97 144.42 H164.97 M150.84 134.17 V159.94 M149.24 134.17 H152.44 M149.24 159.94 H152.44 M149.34 147.06 H152.34 M144.52 138.87 V164.64 M142.92 138.87 H146.12 M142.92 164.64 H146.12 M143.02 151.75 H146.02 M141.36 139.39 V165.16 M139.76 139.39 H142.96 M139.76 165.16 H142.96 M139.86 152.28 H142.86" fill="none" stroke="#ff1010" stroke-width="1.55"/>
</g>
<rect x="138.20" y="27.70" width="258.80" height="153.40" fill="none" stroke="#000" stroke-width="2.50"/>
<path d="M134.90 366.00 H192.40 M134.90 362.00 v8 M192.40 362.00 v8 M163.65 362.50 v7" fill="none" stroke="#ff1010" stroke-width="1.3"/>
<path d="M134.90 402.40 H192.40 V388.20 H134.90 Z" fill="#d9ffd9" stroke="#00f000" stroke-width="1.4" stroke-dasharray="10 4.9"/>
<path d="M134.90 432.20 H192.40 V417.50 H134.90 Z" fill="#d9d9ff" stroke="#0a0aff" stroke-width="1.4" stroke-dasharray="14.5 4.9 2.8 5.3"/>
<g opacity="0.999">
<text id="yl1_01" x="97.40" y="18.80" font-size="24.00" text-anchor="end" font-family="Liberation Sans, sans-serif" textLength="42.7" lengthAdjust="spacingAndGlyphs" fill="#000">1.01</text>
<text id="yl1_005" x="98.20" y="127.53" font-size="24.00" text-anchor="end" font-family="Liberation Sans, sans-serif" textLength="55.7" lengthAdjust="spacingAndGlyphs" fill="#000">1.005</text>
<text id="yl1" x="96.60" y="236.25" font-size="24.00" text-anchor="end" font-family="Liberation Sans, sans-serif" textLength="9.6" lengthAdjust="spacingAndGlyphs" fill="#000">1</text>
<text id="yl0_995" x="98.40" y="344.98" font-size="24.00" text-anchor="end" font-family="Liberation Sans, sans-serif" textLength="56.6" lengthAdjust="spacingAndGlyphs" fill="#000">0.995</text>
<text id="yl0_99" x="98.20" y="453.70" font-size="24.00" text-anchor="end" font-family="Liberation Sans, sans-serif" textLength="44.6" lengthAdjust="spacingAndGlyphs" fill="#000">0.99</text>
<text id="xl1" x="256.70" y="478.90" font-size="24.00" text-anchor="middle" font-family="Liberation Sans, sans-serif" textLength="56.9" lengthAdjust="spacingAndGlyphs" fill="#000">0.001</text>
<text id="xl2" x="614.05" y="478.90" font-size="24.00" text-anchor="middle" font-family="Liberation Sans, sans-serif" textLength="41.6" lengthAdjust="spacingAndGlyphs" fill="#000">0.01</text>
<text id="w0" x="205.35" y="371.80" font-size="23.40" text-anchor="start" font-family="Liberation Sans, sans-serif" textLength="86.24" lengthAdjust="spacingAndGlyphs" fill="#000">worldline</text>
<text id="w1" x="292.65" y="371.80" font-size="23.40" text-anchor="start" font-family="Liberation Sans, sans-serif" textLength="8.61" lengthAdjust="spacingAndGlyphs" fill="#000">-</text>
<text id="w2" x="301.09" y="371.80" font-size="23.40" text-anchor="start" font-family="Liberation Sans, sans-serif" textLength="101.20" lengthAdjust="spacingAndGlyphs" fill="#000">numerical</text>
<text id="w3" x="411.38" y="371.80" font-size="23.40" text-anchor="start" font-family="Liberation Sans, sans-serif" textLength="60.95" lengthAdjust="spacingAndGlyphs" fill="#000">values</text>
<text id="w4" x="205.06" y="400.90" font-size="23.40" text-anchor="start" font-family="Liberation Sans, sans-serif" textLength="109.02" lengthAdjust="spacingAndGlyphs" fill="#000">polynomial</text>
<text id="w5" x="324.20" y="400.90" font-size="23.40" text-anchor="start" font-family="Liberation Sans, sans-serif" textLength="129.90" lengthAdjust="spacingAndGlyphs" fill="#000">interpolation</text>
<text id="lg3" x="204.40" y="430.70" font-size="24.00" text-anchor="start" font-family="Liberation Sans, sans-serif" textLength="43.6" lengthAdjust="spacingAndGlyphs" fill="#000">PFA</text>
<text id="xa" x="446.6" y="515" font-size="25" font-family="Liberation Serif, serif" font-style="italic" fill="#111" textLength="12.6" lengthAdjust="spacingAndGlyphs">a</text>
<line x1="461.4" y1="520.5" x2="469.8" y2="496.8" stroke="#111" stroke-width="1.3"/>
<text id="xR" x="472.8" y="515" font-size="25" font-family="Liberation Serif, serif" font-style="italic" fill="#111" textLength="17.6" lengthAdjust="spacingAndGlyphs">R</text>
<g id="ylab" transform="translate(29.0 310.5) rotate(-90)">
<text id="yE1" x="4.03" y="0.00" font-size="26.40" font-family="Liberation Serif, serif" font-style="italic" fill="#111" textLength="17.53" lengthAdjust="spacingAndGlyphs">E</text>
<text id="ysub1" x="21.91" y="4.10" font-size="18.00" font-family="Liberation Serif, serif"  fill="#111" textLength="64.35" lengthAdjust="spacingAndGlyphs">Casimir</text>
<text id="yE2" x="101.63" y="0.00" font-size="26.40" font-family="Liberation Serif, serif" font-style="italic" fill="#111" textLength="18.40" lengthAdjust="spacingAndGlyphs">E</text>
<text id="ysub2" x="119.36" y="7.20" font-size="18.00" font-family="Liberation Serif, serif"  fill="#111" textLength="37.80" lengthAdjust="spacingAndGlyphs">PFA</text>
<text id="ysup" x="121.20" y="-12.90" font-size="19.00" font-family="Liberation Serif, serif"  fill="#111" textLength="24.78" lengthAdjust="spacingAndGlyphs">(0)</text>
<line x1="90.6" y1="5.4" x2="99.8" y2="-18.9" stroke="#111" stroke-width="1.3"/>
</g>
</g>
</svg>
</body></html>
